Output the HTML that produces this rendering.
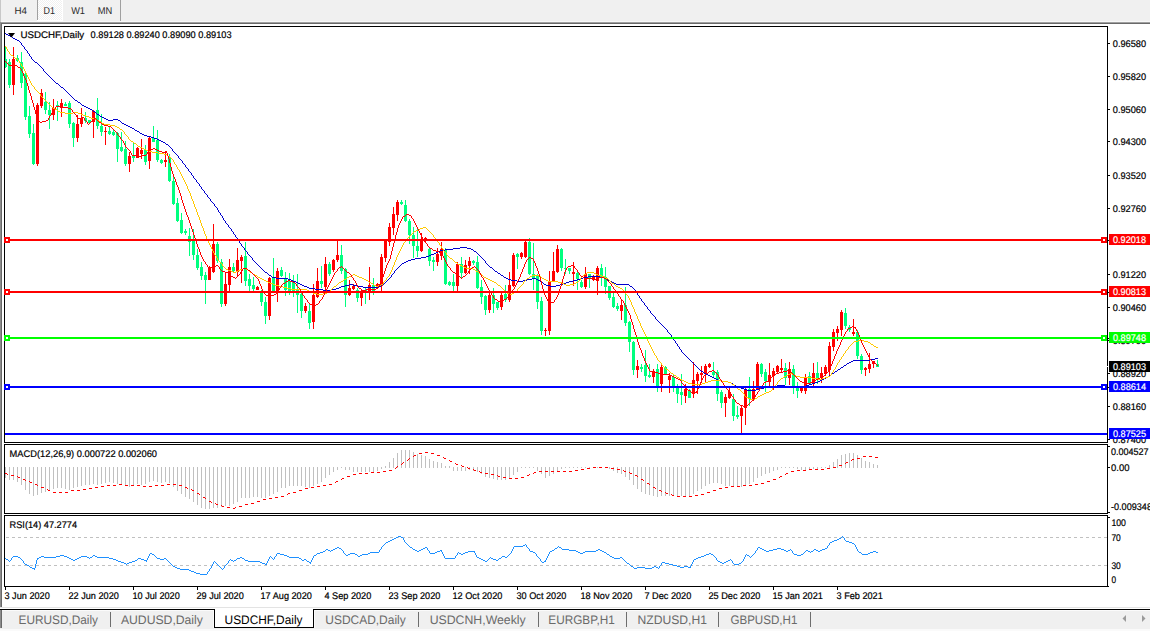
<!DOCTYPE html>
<html><head><meta charset="utf-8"><title>USDCHF,Daily</title>
<style>
html,body{margin:0;padding:0;background:#fff;}
body{width:1150px;height:631px;overflow:hidden;}
svg{display:block;font-family:"Liberation Sans",sans-serif;text-rendering:geometricPrecision;}
text{font-family:"Liberation Sans",sans-serif;}
.b text{stroke:#000;stroke-width:0.2px;}
.w text{stroke:#fff;stroke-width:0.2px;}
</style></head><body>
<svg width="1150" height="631" viewBox="0 0 1150 631">
<rect x="0" y="0" width="1150" height="631" fill="#ffffff"/>
<rect x="0" y="0" width="1150" height="21" fill="#f0f0f0"/>
<rect x="0" y="21" width="1150" height="1" fill="#f8f8f8"/>
<rect x="0" y="22" width="1150" height="1" fill="#a0a0a0"/>
<rect x="0" y="23" width="1150" height="1" fill="#696969"/>
<rect x="0" y="0" width="1" height="22" fill="#c8c8c8"/>
<rect x="0" y="22" width="1" height="586" fill="#8c8c8c"/>
<rect x="1" y="23" width="1" height="585" fill="#696969"/>
<defs><pattern id="hat" width="2" height="2" patternUnits="userSpaceOnUse"><rect width="2" height="2" fill="#ffffff"/><rect x="0" y="0" width="1" height="1" fill="#f0f0f0"/><rect x="1" y="1" width="1" height="1" fill="#f0f0f0"/></pattern></defs>
<rect x="38" y="0" width="24" height="20" fill="url(#hat)"/>
<rect x="62" y="0" width="1" height="21" fill="#fff"/>
<rect x="37" y="20" width="26" height="1" fill="#fff"/>
<rect x="37" y="0" width="1" height="20" fill="#a0a0a0"/>
<rect x="120" y="0" width="1" height="21" fill="#a0a0a0"/>
<text x="14.5" y="14" font-size="10" fill="#2a2a2a" textLength="12.50" lengthAdjust="spacingAndGlyphs">H4</text>
<text x="43.6" y="14" font-size="10" fill="#2a2a2a" textLength="11.40" lengthAdjust="spacingAndGlyphs">D1</text>
<text x="71.2" y="14" font-size="10" fill="#2a2a2a" textLength="13.80" lengthAdjust="spacingAndGlyphs">W1</text>
<text x="97.8" y="14" font-size="10" fill="#2a2a2a" textLength="14.50" lengthAdjust="spacingAndGlyphs">MN</text>
<g shape-rendering="crispEdges">
<rect x="5" y="46" width="1" height="22" fill="#00ff7f"/>
<rect x="4" y="59" width="3" height="8" fill="#00ff7f"/>
<rect x="9" y="59" width="1" height="29" fill="#00ff7f"/>
<rect x="8" y="62" width="3" height="23" fill="#00ff7f"/>
<rect x="13" y="47" width="1" height="48" fill="#ff0000"/>
<rect x="12" y="59" width="3" height="26" fill="#ff0000"/>
<rect x="17" y="55" width="1" height="7" fill="#00ff7f"/>
<rect x="16" y="58" width="3" height="3" fill="#00ff7f"/>
<rect x="21" y="52" width="1" height="36" fill="#00ff7f"/>
<rect x="20" y="62" width="3" height="21" fill="#00ff7f"/>
<rect x="25" y="73" width="1" height="47" fill="#00ff7f"/>
<rect x="24" y="74" width="3" height="43" fill="#00ff7f"/>
<rect x="29" y="106" width="1" height="32" fill="#00ff7f"/>
<rect x="28" y="116" width="3" height="18" fill="#00ff7f"/>
<rect x="33" y="124" width="1" height="41" fill="#00ff7f"/>
<rect x="32" y="133" width="3" height="31" fill="#00ff7f"/>
<rect x="37" y="103" width="1" height="63" fill="#ff0000"/>
<rect x="36" y="105" width="3" height="59" fill="#ff0000"/>
<rect x="41" y="89" width="1" height="19" fill="#ff0000"/>
<rect x="40" y="93" width="3" height="13" fill="#ff0000"/>
<rect x="45" y="92" width="1" height="22" fill="#00ff7f"/>
<rect x="44" y="102" width="3" height="8" fill="#00ff7f"/>
<rect x="49" y="102" width="1" height="27" fill="#00ff7f"/>
<rect x="48" y="110" width="3" height="5" fill="#00ff7f"/>
<rect x="53" y="99" width="1" height="21" fill="#ff0000"/>
<rect x="52" y="108" width="3" height="7" fill="#ff0000"/>
<rect x="57" y="101" width="1" height="20" fill="#00ff7f"/>
<rect x="56" y="105" width="3" height="2" fill="#00ff7f"/>
<rect x="61" y="99" width="1" height="18" fill="#ff0000"/>
<rect x="60" y="103" width="3" height="5" fill="#ff0000"/>
<rect x="65" y="102" width="1" height="4" fill="#00ff7f"/>
<rect x="64" y="104" width="3" height="2" fill="#00ff7f"/>
<rect x="69" y="101" width="1" height="27" fill="#00ff7f"/>
<rect x="68" y="103" width="3" height="21" fill="#00ff7f"/>
<rect x="73" y="122" width="1" height="25" fill="#00ff7f"/>
<rect x="72" y="123" width="3" height="15" fill="#00ff7f"/>
<rect x="77" y="115" width="1" height="27" fill="#ff0000"/>
<rect x="76" y="124" width="3" height="14" fill="#ff0000"/>
<rect x="81" y="108" width="1" height="19" fill="#ff0000"/>
<rect x="80" y="118" width="3" height="6" fill="#ff0000"/>
<rect x="85" y="112" width="1" height="11" fill="#00ff7f"/>
<rect x="84" y="118" width="3" height="3" fill="#00ff7f"/>
<rect x="89" y="120" width="1" height="4" fill="#00ff7f"/>
<rect x="88" y="120" width="3" height="3" fill="#00ff7f"/>
<rect x="93" y="110" width="1" height="28" fill="#ff0000"/>
<rect x="92" y="111" width="3" height="11" fill="#ff0000"/>
<rect x="97" y="98" width="1" height="31" fill="#00ff7f"/>
<rect x="96" y="110" width="3" height="16" fill="#00ff7f"/>
<rect x="101" y="114" width="1" height="22" fill="#00ff7f"/>
<rect x="100" y="126" width="3" height="6" fill="#00ff7f"/>
<rect x="105" y="127" width="1" height="18" fill="#ff0000"/>
<rect x="104" y="131" width="3" height="1" fill="#ff0000"/>
<rect x="109" y="127" width="1" height="8" fill="#00ff7f"/>
<rect x="108" y="131" width="3" height="3" fill="#00ff7f"/>
<rect x="113" y="130" width="1" height="6" fill="#00ff7f"/>
<rect x="112" y="132" width="3" height="3" fill="#00ff7f"/>
<rect x="117" y="132" width="1" height="30" fill="#00ff7f"/>
<rect x="116" y="133" width="3" height="16" fill="#00ff7f"/>
<rect x="121" y="132" width="1" height="20" fill="#00ff7f"/>
<rect x="120" y="147" width="3" height="4" fill="#00ff7f"/>
<rect x="125" y="141" width="1" height="25" fill="#00ff7f"/>
<rect x="124" y="149" width="3" height="15" fill="#00ff7f"/>
<rect x="129" y="152" width="1" height="20" fill="#ff0000"/>
<rect x="128" y="156" width="3" height="8" fill="#ff0000"/>
<rect x="133" y="142" width="1" height="20" fill="#00ff7f"/>
<rect x="132" y="156" width="3" height="2" fill="#00ff7f"/>
<rect x="137" y="147" width="1" height="11" fill="#ff0000"/>
<rect x="136" y="148" width="3" height="10" fill="#ff0000"/>
<rect x="141" y="139" width="1" height="20" fill="#ff0000"/>
<rect x="140" y="150" width="3" height="4" fill="#ff0000"/>
<rect x="145" y="145" width="1" height="20" fill="#00ff7f"/>
<rect x="144" y="150" width="3" height="12" fill="#00ff7f"/>
<rect x="149" y="136" width="1" height="33" fill="#ff0000"/>
<rect x="148" y="138" width="3" height="23" fill="#ff0000"/>
<rect x="153" y="126" width="1" height="16" fill="#00ff7f"/>
<rect x="152" y="138" width="3" height="4" fill="#00ff7f"/>
<rect x="157" y="130" width="1" height="32" fill="#00ff7f"/>
<rect x="156" y="140" width="3" height="20" fill="#00ff7f"/>
<rect x="161" y="159" width="1" height="5" fill="#00ff7f"/>
<rect x="160" y="160" width="3" height="3" fill="#00ff7f"/>
<rect x="165" y="151" width="1" height="16" fill="#ff0000"/>
<rect x="164" y="160" width="3" height="2" fill="#ff0000"/>
<rect x="169" y="154" width="1" height="28" fill="#00ff7f"/>
<rect x="168" y="157" width="3" height="24" fill="#00ff7f"/>
<rect x="173" y="176" width="1" height="29" fill="#00ff7f"/>
<rect x="172" y="181" width="3" height="23" fill="#00ff7f"/>
<rect x="177" y="198" width="1" height="24" fill="#00ff7f"/>
<rect x="176" y="203" width="3" height="18" fill="#00ff7f"/>
<rect x="181" y="213" width="1" height="21" fill="#00ff7f"/>
<rect x="180" y="220" width="3" height="13" fill="#00ff7f"/>
<rect x="185" y="229" width="1" height="6" fill="#00ff7f"/>
<rect x="184" y="231" width="3" height="2" fill="#00ff7f"/>
<rect x="189" y="228" width="1" height="28" fill="#00ff7f"/>
<rect x="188" y="236" width="3" height="6" fill="#00ff7f"/>
<rect x="193" y="229" width="1" height="31" fill="#00ff7f"/>
<rect x="192" y="241" width="3" height="14" fill="#00ff7f"/>
<rect x="197" y="249" width="1" height="21" fill="#00ff7f"/>
<rect x="196" y="255" width="3" height="13" fill="#00ff7f"/>
<rect x="201" y="262" width="1" height="18" fill="#00ff7f"/>
<rect x="200" y="267" width="3" height="9" fill="#00ff7f"/>
<rect x="205" y="272" width="1" height="32" fill="#00ff7f"/>
<rect x="204" y="275" width="3" height="5" fill="#00ff7f"/>
<rect x="209" y="266" width="1" height="14" fill="#ff0000"/>
<rect x="208" y="267" width="3" height="13" fill="#ff0000"/>
<rect x="213" y="224" width="1" height="49" fill="#ff0000"/>
<rect x="212" y="244" width="3" height="28" fill="#ff0000"/>
<rect x="217" y="242" width="1" height="21" fill="#00ff7f"/>
<rect x="216" y="244" width="3" height="17" fill="#00ff7f"/>
<rect x="221" y="259" width="1" height="48" fill="#00ff7f"/>
<rect x="220" y="262" width="3" height="42" fill="#00ff7f"/>
<rect x="225" y="272" width="1" height="34" fill="#ff0000"/>
<rect x="224" y="284" width="3" height="20" fill="#ff0000"/>
<rect x="229" y="259" width="1" height="32" fill="#ff0000"/>
<rect x="228" y="267" width="3" height="18" fill="#ff0000"/>
<rect x="233" y="263" width="1" height="9" fill="#00ff7f"/>
<rect x="232" y="267" width="3" height="4" fill="#00ff7f"/>
<rect x="237" y="248" width="1" height="28" fill="#ff0000"/>
<rect x="236" y="260" width="3" height="12" fill="#ff0000"/>
<rect x="241" y="255" width="1" height="28" fill="#ff0000"/>
<rect x="240" y="257" width="3" height="4" fill="#ff0000"/>
<rect x="245" y="242" width="1" height="44" fill="#00ff7f"/>
<rect x="244" y="256" width="3" height="25" fill="#00ff7f"/>
<rect x="249" y="274" width="1" height="17" fill="#00ff7f"/>
<rect x="248" y="279" width="3" height="7" fill="#00ff7f"/>
<rect x="253" y="277" width="1" height="14" fill="#00ff7f"/>
<rect x="252" y="285" width="3" height="4" fill="#00ff7f"/>
<rect x="257" y="286" width="1" height="4" fill="#ff0000"/>
<rect x="256" y="287" width="3" height="3" fill="#ff0000"/>
<rect x="261" y="290" width="1" height="16" fill="#00ff7f"/>
<rect x="260" y="293" width="3" height="9" fill="#00ff7f"/>
<rect x="265" y="297" width="1" height="27" fill="#00ff7f"/>
<rect x="264" y="302" width="3" height="14" fill="#00ff7f"/>
<rect x="269" y="277" width="1" height="43" fill="#ff0000"/>
<rect x="268" y="278" width="3" height="38" fill="#ff0000"/>
<rect x="273" y="258" width="1" height="34" fill="#00ff7f"/>
<rect x="272" y="278" width="3" height="13" fill="#00ff7f"/>
<rect x="277" y="268" width="1" height="34" fill="#ff0000"/>
<rect x="276" y="271" width="3" height="20" fill="#ff0000"/>
<rect x="281" y="267" width="1" height="10" fill="#00ff7f"/>
<rect x="280" y="270" width="3" height="6" fill="#00ff7f"/>
<rect x="285" y="272" width="1" height="24" fill="#00ff7f"/>
<rect x="284" y="279" width="3" height="11" fill="#00ff7f"/>
<rect x="289" y="273" width="1" height="22" fill="#00ff7f"/>
<rect x="288" y="281" width="3" height="10" fill="#00ff7f"/>
<rect x="293" y="275" width="1" height="22" fill="#00ff7f"/>
<rect x="292" y="282" width="3" height="9" fill="#00ff7f"/>
<rect x="297" y="274" width="1" height="39" fill="#00ff7f"/>
<rect x="296" y="289" width="3" height="6" fill="#00ff7f"/>
<rect x="301" y="293" width="1" height="25" fill="#00ff7f"/>
<rect x="300" y="294" width="3" height="17" fill="#00ff7f"/>
<rect x="305" y="303" width="1" height="10" fill="#ff0000"/>
<rect x="304" y="306" width="3" height="5" fill="#ff0000"/>
<rect x="309" y="304" width="1" height="25" fill="#00ff7f"/>
<rect x="308" y="311" width="3" height="12" fill="#00ff7f"/>
<rect x="313" y="284" width="1" height="45" fill="#ff0000"/>
<rect x="312" y="295" width="3" height="27" fill="#ff0000"/>
<rect x="317" y="268" width="1" height="30" fill="#ff0000"/>
<rect x="316" y="281" width="3" height="16" fill="#ff0000"/>
<rect x="321" y="266" width="1" height="22" fill="#00ff7f"/>
<rect x="320" y="281" width="3" height="3" fill="#00ff7f"/>
<rect x="325" y="257" width="1" height="33" fill="#ff0000"/>
<rect x="324" y="264" width="3" height="23" fill="#ff0000"/>
<rect x="329" y="262" width="1" height="14" fill="#00ff7f"/>
<rect x="328" y="264" width="3" height="10" fill="#00ff7f"/>
<rect x="333" y="259" width="1" height="13" fill="#ff0000"/>
<rect x="332" y="260" width="3" height="10" fill="#ff0000"/>
<rect x="337" y="241" width="1" height="21" fill="#ff0000"/>
<rect x="336" y="255" width="3" height="5" fill="#ff0000"/>
<rect x="341" y="245" width="1" height="29" fill="#00ff7f"/>
<rect x="340" y="255" width="3" height="16" fill="#00ff7f"/>
<rect x="345" y="268" width="1" height="39" fill="#00ff7f"/>
<rect x="344" y="269" width="3" height="26" fill="#00ff7f"/>
<rect x="349" y="280" width="1" height="16" fill="#ff0000"/>
<rect x="348" y="288" width="3" height="7" fill="#ff0000"/>
<rect x="353" y="284" width="1" height="6" fill="#ff0000"/>
<rect x="352" y="286" width="3" height="3" fill="#ff0000"/>
<rect x="357" y="288" width="1" height="14" fill="#00ff7f"/>
<rect x="356" y="290" width="3" height="8" fill="#00ff7f"/>
<rect x="361" y="289" width="1" height="17" fill="#ff0000"/>
<rect x="360" y="291" width="3" height="7" fill="#ff0000"/>
<rect x="365" y="288" width="1" height="16" fill="#00ff7f"/>
<rect x="364" y="290" width="3" height="2" fill="#00ff7f"/>
<rect x="369" y="267" width="1" height="33" fill="#ff0000"/>
<rect x="368" y="285" width="3" height="8" fill="#ff0000"/>
<rect x="373" y="278" width="1" height="17" fill="#00ff7f"/>
<rect x="372" y="285" width="3" height="6" fill="#00ff7f"/>
<rect x="377" y="283" width="1" height="5" fill="#ff0000"/>
<rect x="376" y="284" width="3" height="2" fill="#ff0000"/>
<rect x="381" y="254" width="1" height="37" fill="#ff0000"/>
<rect x="380" y="257" width="3" height="29" fill="#ff0000"/>
<rect x="385" y="240" width="1" height="22" fill="#ff0000"/>
<rect x="384" y="241" width="3" height="17" fill="#ff0000"/>
<rect x="389" y="223" width="1" height="23" fill="#ff0000"/>
<rect x="388" y="227" width="3" height="15" fill="#ff0000"/>
<rect x="393" y="207" width="1" height="28" fill="#ff0000"/>
<rect x="392" y="214" width="3" height="14" fill="#ff0000"/>
<rect x="397" y="200" width="1" height="21" fill="#ff0000"/>
<rect x="396" y="202" width="3" height="13" fill="#ff0000"/>
<rect x="401" y="200" width="1" height="5" fill="#00ff7f"/>
<rect x="400" y="202" width="3" height="2" fill="#00ff7f"/>
<rect x="405" y="200" width="1" height="22" fill="#00ff7f"/>
<rect x="404" y="205" width="3" height="16" fill="#00ff7f"/>
<rect x="409" y="219" width="1" height="25" fill="#00ff7f"/>
<rect x="408" y="221" width="3" height="14" fill="#00ff7f"/>
<rect x="413" y="227" width="1" height="31" fill="#00ff7f"/>
<rect x="412" y="235" width="3" height="11" fill="#00ff7f"/>
<rect x="417" y="228" width="1" height="29" fill="#00ff7f"/>
<rect x="416" y="246" width="3" height="5" fill="#00ff7f"/>
<rect x="421" y="233" width="1" height="19" fill="#ff0000"/>
<rect x="420" y="241" width="3" height="10" fill="#ff0000"/>
<rect x="425" y="237" width="1" height="6" fill="#ff0000"/>
<rect x="424" y="238" width="3" height="3" fill="#ff0000"/>
<rect x="429" y="247" width="1" height="19" fill="#00ff7f"/>
<rect x="428" y="249" width="3" height="12" fill="#00ff7f"/>
<rect x="433" y="257" width="1" height="14" fill="#00ff7f"/>
<rect x="432" y="260" width="3" height="2" fill="#00ff7f"/>
<rect x="437" y="248" width="1" height="18" fill="#ff0000"/>
<rect x="436" y="254" width="3" height="8" fill="#ff0000"/>
<rect x="441" y="242" width="1" height="18" fill="#ff0000"/>
<rect x="440" y="249" width="3" height="7" fill="#ff0000"/>
<rect x="445" y="248" width="1" height="37" fill="#00ff7f"/>
<rect x="444" y="250" width="3" height="34" fill="#00ff7f"/>
<rect x="449" y="281" width="1" height="5" fill="#00ff7f"/>
<rect x="448" y="282" width="3" height="3" fill="#00ff7f"/>
<rect x="453" y="274" width="1" height="17" fill="#00ff7f"/>
<rect x="452" y="282" width="3" height="4" fill="#00ff7f"/>
<rect x="457" y="262" width="1" height="29" fill="#ff0000"/>
<rect x="456" y="264" width="3" height="22" fill="#ff0000"/>
<rect x="461" y="257" width="1" height="22" fill="#00ff7f"/>
<rect x="460" y="264" width="3" height="9" fill="#00ff7f"/>
<rect x="465" y="260" width="1" height="14" fill="#ff0000"/>
<rect x="464" y="265" width="3" height="8" fill="#ff0000"/>
<rect x="469" y="257" width="1" height="17" fill="#ff0000"/>
<rect x="468" y="261" width="3" height="5" fill="#ff0000"/>
<rect x="473" y="260" width="1" height="5" fill="#00ff7f"/>
<rect x="472" y="261" width="3" height="2" fill="#00ff7f"/>
<rect x="477" y="256" width="1" height="33" fill="#00ff7f"/>
<rect x="476" y="262" width="3" height="26" fill="#00ff7f"/>
<rect x="481" y="280" width="1" height="24" fill="#00ff7f"/>
<rect x="480" y="287" width="3" height="10" fill="#00ff7f"/>
<rect x="485" y="295" width="1" height="20" fill="#00ff7f"/>
<rect x="484" y="296" width="3" height="14" fill="#00ff7f"/>
<rect x="489" y="290" width="1" height="23" fill="#ff0000"/>
<rect x="488" y="295" width="3" height="15" fill="#ff0000"/>
<rect x="493" y="288" width="1" height="25" fill="#00ff7f"/>
<rect x="492" y="295" width="3" height="9" fill="#00ff7f"/>
<rect x="497" y="302" width="1" height="8" fill="#00ff7f"/>
<rect x="496" y="302" width="3" height="6" fill="#00ff7f"/>
<rect x="501" y="293" width="1" height="17" fill="#ff0000"/>
<rect x="500" y="295" width="3" height="12" fill="#ff0000"/>
<rect x="505" y="285" width="1" height="17" fill="#00ff7f"/>
<rect x="504" y="294" width="3" height="6" fill="#00ff7f"/>
<rect x="509" y="272" width="1" height="30" fill="#ff0000"/>
<rect x="508" y="285" width="3" height="15" fill="#ff0000"/>
<rect x="513" y="253" width="1" height="34" fill="#ff0000"/>
<rect x="512" y="255" width="3" height="31" fill="#ff0000"/>
<rect x="517" y="253" width="1" height="16" fill="#00ff7f"/>
<rect x="516" y="254" width="3" height="3" fill="#00ff7f"/>
<rect x="521" y="252" width="1" height="7" fill="#ff0000"/>
<rect x="520" y="253" width="3" height="4" fill="#ff0000"/>
<rect x="525" y="241" width="1" height="17" fill="#ff0000"/>
<rect x="524" y="242" width="3" height="15" fill="#ff0000"/>
<rect x="529" y="238" width="1" height="37" fill="#00ff7f"/>
<rect x="528" y="242" width="3" height="32" fill="#00ff7f"/>
<rect x="533" y="243" width="1" height="47" fill="#00ff7f"/>
<rect x="532" y="274" width="3" height="5" fill="#00ff7f"/>
<rect x="537" y="274" width="1" height="35" fill="#00ff7f"/>
<rect x="536" y="275" width="3" height="27" fill="#00ff7f"/>
<rect x="541" y="297" width="1" height="38" fill="#00ff7f"/>
<rect x="540" y="301" width="3" height="30" fill="#00ff7f"/>
<rect x="545" y="328" width="1" height="8" fill="#ff0000"/>
<rect x="544" y="330" width="3" height="1" fill="#ff0000"/>
<rect x="549" y="271" width="1" height="64" fill="#ff0000"/>
<rect x="548" y="281" width="3" height="50" fill="#ff0000"/>
<rect x="553" y="252" width="1" height="30" fill="#ff0000"/>
<rect x="552" y="271" width="3" height="10" fill="#ff0000"/>
<rect x="557" y="245" width="1" height="28" fill="#ff0000"/>
<rect x="556" y="249" width="3" height="23" fill="#ff0000"/>
<rect x="561" y="248" width="1" height="23" fill="#00ff7f"/>
<rect x="560" y="249" width="3" height="19" fill="#00ff7f"/>
<rect x="565" y="259" width="1" height="15" fill="#00ff7f"/>
<rect x="564" y="268" width="3" height="1" fill="#00ff7f"/>
<rect x="569" y="268" width="1" height="6" fill="#00ff7f"/>
<rect x="568" y="268" width="3" height="3" fill="#00ff7f"/>
<rect x="573" y="262" width="1" height="24" fill="#ff0000"/>
<rect x="572" y="272" width="3" height="2" fill="#ff0000"/>
<rect x="577" y="272" width="1" height="18" fill="#00ff7f"/>
<rect x="576" y="273" width="3" height="6" fill="#00ff7f"/>
<rect x="581" y="280" width="1" height="8" fill="#00ff7f"/>
<rect x="580" y="282" width="3" height="5" fill="#00ff7f"/>
<rect x="585" y="267" width="1" height="22" fill="#ff0000"/>
<rect x="584" y="274" width="3" height="13" fill="#ff0000"/>
<rect x="589" y="274" width="1" height="14" fill="#00ff7f"/>
<rect x="588" y="274" width="3" height="4" fill="#00ff7f"/>
<rect x="593" y="275" width="1" height="6" fill="#ff0000"/>
<rect x="592" y="277" width="3" height="3" fill="#ff0000"/>
<rect x="597" y="266" width="1" height="29" fill="#ff0000"/>
<rect x="596" y="268" width="3" height="13" fill="#ff0000"/>
<rect x="601" y="264" width="1" height="22" fill="#00ff7f"/>
<rect x="600" y="268" width="3" height="9" fill="#00ff7f"/>
<rect x="605" y="267" width="1" height="27" fill="#00ff7f"/>
<rect x="604" y="277" width="3" height="10" fill="#00ff7f"/>
<rect x="609" y="286" width="1" height="14" fill="#00ff7f"/>
<rect x="608" y="286" width="3" height="12" fill="#00ff7f"/>
<rect x="613" y="293" width="1" height="15" fill="#00ff7f"/>
<rect x="612" y="297" width="3" height="10" fill="#00ff7f"/>
<rect x="617" y="303" width="1" height="8" fill="#00ff7f"/>
<rect x="616" y="306" width="3" height="3" fill="#00ff7f"/>
<rect x="621" y="299" width="1" height="21" fill="#ff0000"/>
<rect x="620" y="305" width="3" height="6" fill="#ff0000"/>
<rect x="625" y="287" width="1" height="39" fill="#00ff7f"/>
<rect x="624" y="305" width="3" height="18" fill="#00ff7f"/>
<rect x="629" y="321" width="1" height="31" fill="#00ff7f"/>
<rect x="628" y="322" width="3" height="20" fill="#00ff7f"/>
<rect x="633" y="341" width="1" height="34" fill="#00ff7f"/>
<rect x="632" y="342" width="3" height="28" fill="#00ff7f"/>
<rect x="637" y="360" width="1" height="18" fill="#ff0000"/>
<rect x="636" y="366" width="3" height="4" fill="#ff0000"/>
<rect x="641" y="364" width="1" height="8" fill="#00ff7f"/>
<rect x="640" y="367" width="3" height="2" fill="#00ff7f"/>
<rect x="645" y="350" width="1" height="32" fill="#00ff7f"/>
<rect x="644" y="365" width="3" height="11" fill="#00ff7f"/>
<rect x="649" y="364" width="1" height="14" fill="#00ff7f"/>
<rect x="648" y="375" width="3" height="2" fill="#00ff7f"/>
<rect x="653" y="369" width="1" height="14" fill="#ff0000"/>
<rect x="652" y="371" width="3" height="6" fill="#ff0000"/>
<rect x="657" y="364" width="1" height="28" fill="#00ff7f"/>
<rect x="656" y="369" width="3" height="17" fill="#00ff7f"/>
<rect x="661" y="365" width="1" height="27" fill="#ff0000"/>
<rect x="660" y="367" width="3" height="17" fill="#ff0000"/>
<rect x="665" y="366" width="1" height="9" fill="#00ff7f"/>
<rect x="664" y="367" width="3" height="7" fill="#00ff7f"/>
<rect x="669" y="373" width="1" height="20" fill="#ff0000"/>
<rect x="668" y="376" width="3" height="4" fill="#ff0000"/>
<rect x="673" y="375" width="1" height="17" fill="#00ff7f"/>
<rect x="672" y="377" width="3" height="10" fill="#00ff7f"/>
<rect x="677" y="384" width="1" height="19" fill="#00ff7f"/>
<rect x="676" y="388" width="3" height="6" fill="#00ff7f"/>
<rect x="681" y="374" width="1" height="31" fill="#00ff7f"/>
<rect x="680" y="392" width="3" height="3" fill="#00ff7f"/>
<rect x="685" y="384" width="1" height="19" fill="#ff0000"/>
<rect x="684" y="389" width="3" height="7" fill="#ff0000"/>
<rect x="689" y="389" width="1" height="9" fill="#00ff7f"/>
<rect x="688" y="390" width="3" height="8" fill="#00ff7f"/>
<rect x="693" y="362" width="1" height="36" fill="#ff0000"/>
<rect x="692" y="380" width="3" height="14" fill="#ff0000"/>
<rect x="697" y="372" width="1" height="22" fill="#ff0000"/>
<rect x="696" y="374" width="3" height="7" fill="#ff0000"/>
<rect x="701" y="366" width="1" height="17" fill="#ff0000"/>
<rect x="700" y="373" width="3" height="2" fill="#ff0000"/>
<rect x="705" y="364" width="1" height="18" fill="#ff0000"/>
<rect x="704" y="366" width="3" height="8" fill="#ff0000"/>
<rect x="709" y="363" width="1" height="5" fill="#ff0000"/>
<rect x="708" y="364" width="3" height="3" fill="#ff0000"/>
<rect x="713" y="362" width="1" height="15" fill="#00ff7f"/>
<rect x="712" y="372" width="3" height="3" fill="#00ff7f"/>
<rect x="717" y="370" width="1" height="31" fill="#00ff7f"/>
<rect x="716" y="372" width="3" height="22" fill="#00ff7f"/>
<rect x="721" y="390" width="1" height="18" fill="#00ff7f"/>
<rect x="720" y="392" width="3" height="11" fill="#00ff7f"/>
<rect x="725" y="394" width="1" height="23" fill="#ff0000"/>
<rect x="724" y="397" width="3" height="6" fill="#ff0000"/>
<rect x="729" y="387" width="1" height="12" fill="#ff0000"/>
<rect x="728" y="392" width="3" height="6" fill="#ff0000"/>
<rect x="733" y="394" width="1" height="27" fill="#00ff7f"/>
<rect x="732" y="399" width="3" height="17" fill="#00ff7f"/>
<rect x="737" y="406" width="1" height="13" fill="#00ff7f"/>
<rect x="736" y="415" width="3" height="2" fill="#00ff7f"/>
<rect x="741" y="406" width="1" height="27" fill="#ff0000"/>
<rect x="740" y="408" width="3" height="8" fill="#ff0000"/>
<rect x="745" y="388" width="1" height="37" fill="#ff0000"/>
<rect x="744" y="389" width="3" height="19" fill="#ff0000"/>
<rect x="749" y="377" width="1" height="29" fill="#00ff7f"/>
<rect x="748" y="389" width="3" height="10" fill="#00ff7f"/>
<rect x="753" y="381" width="1" height="20" fill="#ff0000"/>
<rect x="752" y="389" width="3" height="11" fill="#ff0000"/>
<rect x="757" y="362" width="1" height="28" fill="#ff0000"/>
<rect x="756" y="364" width="3" height="25" fill="#ff0000"/>
<rect x="761" y="363" width="1" height="14" fill="#00ff7f"/>
<rect x="760" y="364" width="3" height="10" fill="#00ff7f"/>
<rect x="765" y="369" width="1" height="23" fill="#00ff7f"/>
<rect x="764" y="372" width="3" height="9" fill="#00ff7f"/>
<rect x="769" y="363" width="1" height="25" fill="#ff0000"/>
<rect x="768" y="375" width="3" height="7" fill="#ff0000"/>
<rect x="773" y="368" width="1" height="22" fill="#ff0000"/>
<rect x="772" y="371" width="3" height="5" fill="#ff0000"/>
<rect x="777" y="365" width="1" height="9" fill="#ff0000"/>
<rect x="776" y="366" width="3" height="6" fill="#ff0000"/>
<rect x="781" y="359" width="1" height="13" fill="#ff0000"/>
<rect x="780" y="368" width="3" height="2" fill="#ff0000"/>
<rect x="785" y="363" width="1" height="22" fill="#00ff7f"/>
<rect x="784" y="368" width="3" height="10" fill="#00ff7f"/>
<rect x="789" y="362" width="1" height="23" fill="#ff0000"/>
<rect x="788" y="369" width="3" height="9" fill="#ff0000"/>
<rect x="793" y="365" width="1" height="29" fill="#00ff7f"/>
<rect x="792" y="369" width="3" height="17" fill="#00ff7f"/>
<rect x="797" y="382" width="1" height="16" fill="#00ff7f"/>
<rect x="796" y="388" width="3" height="3" fill="#00ff7f"/>
<rect x="801" y="388" width="1" height="5" fill="#ff0000"/>
<rect x="800" y="388" width="3" height="3" fill="#ff0000"/>
<rect x="805" y="374" width="1" height="20" fill="#ff0000"/>
<rect x="804" y="377" width="3" height="14" fill="#ff0000"/>
<rect x="809" y="372" width="1" height="13" fill="#00ff7f"/>
<rect x="808" y="376" width="3" height="8" fill="#00ff7f"/>
<rect x="813" y="363" width="1" height="23" fill="#ff0000"/>
<rect x="812" y="373" width="3" height="10" fill="#ff0000"/>
<rect x="817" y="362" width="1" height="22" fill="#00ff7f"/>
<rect x="816" y="373" width="3" height="5" fill="#00ff7f"/>
<rect x="821" y="367" width="1" height="16" fill="#ff0000"/>
<rect x="820" y="373" width="3" height="5" fill="#ff0000"/>
<rect x="825" y="365" width="1" height="11" fill="#ff0000"/>
<rect x="824" y="367" width="3" height="7" fill="#ff0000"/>
<rect x="829" y="342" width="1" height="33" fill="#ff0000"/>
<rect x="828" y="346" width="3" height="24" fill="#ff0000"/>
<rect x="833" y="329" width="1" height="22" fill="#ff0000"/>
<rect x="832" y="332" width="3" height="15" fill="#ff0000"/>
<rect x="837" y="326" width="1" height="15" fill="#ff0000"/>
<rect x="836" y="329" width="3" height="4" fill="#ff0000"/>
<rect x="841" y="310" width="1" height="26" fill="#ff0000"/>
<rect x="840" y="312" width="3" height="18" fill="#ff0000"/>
<rect x="845" y="308" width="1" height="21" fill="#00ff7f"/>
<rect x="844" y="313" width="3" height="13" fill="#00ff7f"/>
<rect x="849" y="325" width="1" height="7" fill="#00ff7f"/>
<rect x="848" y="327" width="3" height="3" fill="#00ff7f"/>
<rect x="853" y="319" width="1" height="17" fill="#ff0000"/>
<rect x="852" y="332" width="3" height="2" fill="#ff0000"/>
<rect x="857" y="330" width="1" height="29" fill="#00ff7f"/>
<rect x="856" y="332" width="3" height="24" fill="#00ff7f"/>
<rect x="861" y="354" width="1" height="20" fill="#00ff7f"/>
<rect x="860" y="356" width="3" height="14" fill="#00ff7f"/>
<rect x="865" y="367" width="1" height="9" fill="#ff0000"/>
<rect x="864" y="368" width="3" height="2" fill="#ff0000"/>
<rect x="869" y="353" width="1" height="20" fill="#ff0000"/>
<rect x="868" y="364" width="3" height="5" fill="#ff0000"/>
<rect x="873" y="361" width="1" height="7" fill="#ff0000"/>
<rect x="872" y="361" width="3" height="3" fill="#ff0000"/>
<rect x="877" y="360" width="1" height="7" fill="#00ff7f"/>
<rect x="876" y="364" width="3" height="3" fill="#00ff7f"/>
</g>
<g shape-rendering="crispEdges">
<path d="M5 33h1v1h-1zM6 34h2v1h-2zM8 35h2v1h-2zM10 36h2v1h-2zM12 37h1v1h-1zM13 38h2v1h-2zM15 39h2v1h-2zM17 40h2v1h-2zM19 41h1v1h-1zM20 42h1v1h-1zM21 43h1v2h-1zM22 45h1v1h-1zM23 46h1v1h-1zM24 47h1v2h-1zM25 49h1v1h-1zM26 50h1v1h-1zM27 51h1v2h-1zM28 53h1v1h-1zM29 54h1v2h-1zM30 56h1v1h-1zM31 57h1v2h-1zM32 59h1v1h-1zM33 60h1v1h-1zM34 61h1v1h-1zM35 62h2v1h-2zM37 63h1v1h-1zM38 64h1v1h-1zM39 65h1v1h-1zM40 66h1v1h-1zM41 67h1v1h-1zM42 68h1v1h-1zM43 69h1v2h-1zM44 71h1v1h-1zM45 72h1v1h-1zM46 73h1v1h-1zM47 74h1v1h-1zM48 75h1v1h-1zM49 76h1v1h-1zM50 77h1v1h-1zM51 78h1v1h-1zM52 79h1v1h-1zM53 80h1v1h-1zM54 81h1v1h-1zM55 82h1v1h-1zM56 83h2v1h-2zM58 84h1v1h-1zM59 85h1v1h-1zM60 86h1v1h-1zM61 87h2v1h-2zM63 88h1v1h-1zM64 89h1v1h-1zM65 90h1v1h-1zM66 91h1v1h-1zM67 92h1v1h-1zM68 93h1v1h-1zM69 94h1v1h-1zM70 95h1v1h-1zM71 96h1v1h-1zM72 97h1v1h-1zM73 98h1v1h-1zM74 99h1v1h-1zM75 100h2v1h-2zM77 101h1v1h-1zM78 102h2v1h-2zM80 103h1v1h-1zM81 104h1v1h-1zM82 105h2v1h-2zM84 106h2v1h-2zM86 107h2v1h-2zM88 108h2v1h-2zM90 109h2v1h-2zM92 110h1v1h-1zM93 111h2v1h-2zM95 112h1v1h-1zM96 113h1v1h-1zM97 114h2v1h-2zM99 115h1v1h-1zM100 116h2v1h-2zM102 117h2v1h-2zM104 118h2v1h-2zM106 119h2v1h-2zM108 120h5v1h-5zM113 119h5v1h-5zM118 120h2v1h-2zM120 121h1v1h-1zM121 122h1v1h-1zM122 123h2v1h-2zM124 124h2v1h-2zM126 125h2v1h-2zM128 126h2v1h-2zM130 127h2v1h-2zM132 128h2v1h-2zM134 129h1v1h-1zM135 130h2v1h-2zM137 131h2v1h-2zM139 132h1v1h-1zM140 133h2v1h-2zM142 134h2v1h-2zM144 135h3v1h-3zM147 136h4v1h-4zM151 137h3v1h-3zM154 138h3v1h-3zM157 139h2v1h-2zM159 140h2v1h-2zM161 141h2v1h-2zM163 142h2v1h-2zM165 143h1v1h-1zM166 144h2v1h-2zM168 145h1v1h-1zM169 146h1v1h-1zM170 147h1v1h-1zM171 148h1v1h-1zM172 149h1v2h-1zM173 151h1v1h-1zM174 152h1v1h-1zM175 153h1v1h-1zM176 154h1v1h-1zM177 155h1v1h-1zM178 156h1v2h-1zM179 158h1v1h-1zM180 159h1v1h-1zM181 160h1v1h-1zM182 161h1v2h-1zM183 163h1v1h-1zM184 164h1v1h-1zM185 165h1v2h-1zM186 167h1v1h-1zM187 168h1v1h-1zM188 169h1v2h-1zM189 171h1v1h-1zM190 172h1v1h-1zM191 173h1v2h-1zM192 175h1v1h-1zM193 176h1v2h-1zM194 178h1v1h-1zM195 179h1v1h-1zM196 180h1v2h-1zM197 182h1v1h-1zM198 183h1v1h-1zM199 184h1v2h-1zM200 186h1v1h-1zM201 187h1v2h-1zM202 189h1v1h-1zM203 190h1v1h-1zM204 191h1v2h-1zM205 193h1v1h-1zM206 194h1v1h-1zM207 195h1v2h-1zM208 197h1v1h-1zM209 198h1v1h-1zM210 199h1v2h-1zM211 201h1v1h-1zM212 202h1v1h-1zM213 203h1v1h-1zM214 204h1v2h-1zM215 206h1v1h-1zM216 207h1v1h-1zM217 208h1v2h-1zM218 210h1v2h-1zM219 212h1v1h-1zM220 213h1v2h-1zM221 215h1v1h-1zM222 216h1v2h-1zM223 218h1v2h-1zM224 220h1v1h-1zM225 221h1v2h-1zM226 223h1v1h-1zM227 224h1v1h-1zM228 225h1v2h-1zM229 227h1v1h-1zM230 228h1v1h-1zM231 229h1v2h-1zM232 231h1v1h-1zM233 232h1v2h-1zM234 234h1v1h-1zM235 235h1v2h-1zM236 237h1v1h-1zM237 238h1v2h-1zM238 240h1v1h-1zM239 241h1v2h-1zM240 243h1v1h-1zM241 244h1v2h-1zM242 246h1v1h-1zM243 247h1v1h-1zM244 248h1v2h-1zM245 250h1v1h-1zM246 251h1v1h-1zM247 252h1v2h-1zM248 254h1v1h-1zM249 255h1v1h-1zM250 256h1v1h-1zM251 257h1v1h-1zM252 258h1v2h-1zM253 260h1v1h-1zM254 261h1v1h-1zM255 262h1v1h-1zM256 263h1v1h-1zM257 264h1v1h-1zM258 265h1v1h-1zM259 266h1v1h-1zM260 267h1v1h-1zM261 268h1v1h-1zM262 269h1v1h-1zM263 270h1v1h-1zM264 271h1v1h-1zM265 272h2v1h-2zM267 273h1v1h-1zM268 274h1v1h-1zM269 275h2v1h-2zM271 276h1v1h-1zM272 277h4v1h-4zM276 278h12v1h-12zM288 279h3v1h-3zM291 280h2v1h-2zM293 281h3v1h-3zM296 282h2v1h-2zM298 283h2v1h-2zM300 284h2v1h-2zM302 285h2v1h-2zM304 286h3v1h-3zM307 287h2v1h-2zM309 288h6v1h-6zM315 289h8v1h-8zM323 290h8v1h-8zM331 289h5v1h-5zM336 288h3v1h-3zM339 287h2v1h-2zM341 286h4v1h-4zM345 285h4v1h-4zM349 284h4v1h-4zM353 285h4v1h-4zM357 286h6v1h-6zM363 287h15v1h-15zM378 286h3v1h-3zM381 285h1v1h-1zM382 284h2v1h-2zM384 283h1v1h-1zM385 282h1v1h-1zM386 281h1v1h-1zM387 280h1v1h-1zM388 279h1v1h-1zM389 278h1v1h-1zM390 277h1v1h-1zM391 275h1v2h-1zM392 274h1v1h-1zM393 273h1v1h-1zM394 271h1v2h-1zM395 270h1v1h-1zM396 269h1v1h-1zM397 268h1v1h-1zM398 267h1v1h-1zM399 266h1v1h-1zM400 265h1v1h-1zM401 264h1v1h-1zM402 263h2v1h-2zM404 262h2v1h-2zM406 261h2v1h-2zM408 260h3v1h-3zM411 259h4v1h-4zM415 258h6v1h-6zM421 257h5v1h-5zM426 256h3v1h-3zM429 255h2v1h-2zM431 254h3v1h-3zM434 253h2v1h-2zM436 252h2v1h-2zM438 251h2v1h-2zM440 250h5v1h-5zM445 249h8v1h-8zM453 248h7v1h-7zM460 247h7v1h-7zM467 248h4v1h-4zM471 249h2v1h-2zM473 250h1v1h-1zM474 251h2v1h-2zM476 252h1v1h-1zM477 253h1v1h-1zM478 254h1v1h-1zM479 255h1v1h-1zM480 256h1v1h-1zM481 257h1v1h-1zM482 258h1v1h-1zM483 259h1v1h-1zM484 260h1v1h-1zM485 261h1v2h-1zM486 263h1v1h-1zM487 264h1v1h-1zM488 265h1v1h-1zM489 266h1v1h-1zM490 267h2v1h-2zM492 268h1v1h-1zM493 269h1v1h-1zM494 270h1v1h-1zM495 271h2v1h-2zM497 272h1v1h-1zM498 273h2v1h-2zM500 274h1v1h-1zM501 275h2v1h-2zM503 276h1v1h-1zM504 277h2v1h-2zM506 278h2v1h-2zM508 279h3v1h-3zM511 280h6v1h-6zM517 281h6v1h-6zM523 280h4v1h-4zM527 279h5v1h-5zM532 278h4v1h-4zM536 279h2v1h-2zM538 280h2v1h-2zM540 281h1v1h-1zM541 282h2v1h-2zM543 283h1v1h-1zM544 284h2v1h-2zM546 285h4v1h-4zM550 286h6v1h-6zM556 285h4v1h-4zM560 284h3v1h-3zM563 283h3v1h-3zM566 282h3v1h-3zM569 281h4v1h-4zM573 280h4v1h-4zM577 279h3v1h-3zM580 278h3v1h-3zM583 277h5v1h-5zM588 276h12v1h-12zM600 277h4v1h-4zM604 278h2v1h-2zM606 279h2v1h-2zM608 280h2v1h-2zM610 281h2v1h-2zM612 282h2v1h-2zM614 283h2v1h-2zM616 284h13v1h-13zM629 285h1v1h-1zM630 286h2v1h-2zM632 287h1v1h-1zM633 288h1v1h-1zM634 289h1v1h-1zM635 290h1v2h-1zM636 292h1v1h-1zM637 293h1v2h-1zM638 295h1v1h-1zM639 296h1v2h-1zM640 298h1v1h-1zM641 299h1v2h-1zM642 301h1v1h-1zM643 302h1v1h-1zM644 303h1v2h-1zM645 305h1v1h-1zM646 306h1v1h-1zM647 307h1v2h-1zM648 309h1v1h-1zM649 310h1v1h-1zM650 311h1v2h-1zM651 313h1v1h-1zM652 314h1v1h-1zM653 315h1v1h-1zM654 316h1v1h-1zM655 317h1v2h-1zM656 319h1v1h-1zM657 320h1v1h-1zM658 321h1v1h-1zM659 322h1v1h-1zM660 323h1v1h-1zM661 324h1v1h-1zM662 325h1v1h-1zM663 326h1v1h-1zM664 327h1v1h-1zM665 328h1v1h-1zM666 329h1v1h-1zM667 330h1v2h-1zM668 332h1v1h-1zM669 333h1v1h-1zM670 334h1v1h-1zM671 335h1v2h-1zM672 337h1v1h-1zM673 338h1v2h-1zM674 340h1v1h-1zM675 341h1v2h-1zM676 343h1v1h-1zM677 344h1v2h-1zM678 346h1v1h-1zM679 347h1v2h-1zM680 349h1v1h-1zM681 350h1v2h-1zM682 352h1v1h-1zM683 353h1v1h-1zM684 354h1v1h-1zM685 355h1v1h-1zM686 356h1v1h-1zM687 357h1v1h-1zM688 358h1v1h-1zM689 359h1v1h-1zM690 360h1v1h-1zM691 361h1v1h-1zM692 362h1v1h-1zM693 363h1v1h-1zM694 364h1v1h-1zM695 365h1v1h-1zM696 366h1v1h-1zM697 367h1v1h-1zM698 368h1v1h-1zM699 369h1v1h-1zM700 370h1v1h-1zM701 371h2v1h-2zM703 372h1v1h-1zM704 373h2v1h-2zM706 374h2v1h-2zM708 375h2v1h-2zM710 376h2v1h-2zM712 377h2v1h-2zM714 378h2v1h-2zM716 379h2v1h-2zM718 380h4v1h-4zM722 381h6v1h-6zM728 382h3v1h-3zM731 383h2v1h-2zM733 384h1v1h-1zM734 385h2v1h-2zM736 386h2v1h-2zM738 387h3v1h-3zM741 388h3v1h-3zM744 389h3v1h-3zM747 390h9v1h-9zM756 389h3v1h-3zM759 388h5v1h-5zM764 387h6v1h-6zM770 386h7v1h-7zM777 385h8v1h-8zM785 386h21v1h-21zM806 385h3v1h-3zM809 384h3v1h-3zM812 383h3v1h-3zM815 382h3v1h-3zM818 381h2v1h-2zM820 380h2v1h-2zM822 379h2v1h-2zM824 378h2v1h-2zM826 377h2v1h-2zM828 376h1v1h-1zM829 375h2v1h-2zM831 374h1v1h-1zM832 373h2v1h-2zM834 372h1v1h-1zM835 371h2v1h-2zM837 370h1v1h-1zM838 369h2v1h-2zM840 368h1v1h-1zM841 367h2v1h-2zM843 366h1v1h-1zM844 365h2v1h-2zM846 364h1v1h-1zM847 363h2v1h-2zM849 362h2v1h-2zM851 361h2v1h-2zM853 360h17v1h-17zM870 359h5v1h-5zM875 358h3v1h-3z" fill="#0000cd"/>
<path d="M5 46h1v1h-1zM6 47h1v2h-1zM7 49h1v2h-1zM8 51h1v1h-1zM9 52h1v2h-1zM10 54h1v1h-1zM11 55h2v1h-2zM13 56h1v1h-1zM14 57h1v1h-1zM15 58h2v1h-2zM17 59h1v1h-1zM18 60h1v1h-1zM19 61h1v2h-1zM20 63h1v1h-1zM21 64h1v2h-1zM22 66h1v1h-1zM23 67h1v2h-1zM24 69h1v2h-1zM25 71h1v2h-1zM26 73h1v2h-1zM27 75h1v2h-1zM28 77h1v2h-1zM29 79h1v2h-1zM30 81h1v2h-1zM31 83h1v2h-1zM32 85h1v1h-1zM33 86h1v1h-1zM34 87h1v2h-1zM35 89h1v1h-1zM36 90h1v1h-1zM37 91h1v1h-1zM38 92h1v1h-1zM39 93h1v1h-1zM40 94h1v2h-1zM41 96h1v1h-1zM42 97h1v1h-1zM43 98h1v1h-1zM44 99h1v1h-1zM45 100h1v1h-1zM46 101h1v1h-1zM47 102h1v1h-1zM48 103h1v1h-1zM49 104h1v1h-1zM50 105h1v1h-1zM51 106h1v1h-1zM52 107h1v1h-1zM53 108h2v1h-2zM55 109h2v1h-2zM57 110h1v1h-1zM58 111h2v1h-2zM60 112h5v1h-5zM65 113h8v1h-8zM73 112h5v1h-5zM78 113h3v1h-3zM81 114h2v1h-2zM83 115h3v1h-3zM86 116h3v1h-3zM89 117h2v1h-2zM91 118h3v1h-3zM94 119h3v1h-3zM97 120h2v1h-2zM99 121h2v1h-2zM101 122h1v1h-1zM102 123h2v1h-2zM104 124h6v1h-6zM110 125h5v1h-5zM115 126h2v1h-2zM117 127h2v1h-2zM119 128h1v1h-1zM120 129h2v1h-2zM122 130h1v1h-1zM123 131h1v1h-1zM124 132h1v2h-1zM125 134h1v1h-1zM126 135h1v1h-1zM127 136h1v1h-1zM128 137h1v2h-1zM129 139h1v1h-1zM130 140h1v1h-1zM131 141h2v1h-2zM133 142h1v1h-1zM134 143h2v1h-2zM136 144h1v1h-1zM137 145h1v1h-1zM138 146h2v1h-2zM140 147h2v1h-2zM142 148h2v1h-2zM144 149h2v1h-2zM146 150h2v1h-2zM148 151h4v1h-4zM152 152h6v1h-6zM158 153h6v1h-6zM164 154h3v1h-3zM167 155h1v1h-1zM168 156h2v1h-2zM170 157h1v1h-1zM171 158h1v1h-1zM172 159h1v1h-1zM173 160h1v2h-1zM174 162h1v2h-1zM175 164h1v1h-1zM176 165h1v2h-1zM177 167h1v2h-1zM178 169h1v1h-1zM179 170h1v2h-1zM180 172h1v2h-1zM181 174h1v2h-1zM182 176h1v2h-1zM183 178h1v2h-1zM184 180h1v2h-1zM185 182h1v2h-1zM186 184h1v2h-1zM187 186h1v3h-1zM188 189h1v2h-1zM189 191h1v2h-1zM190 193h1v3h-1zM191 196h1v3h-1zM192 199h1v2h-1zM193 201h1v3h-1zM194 204h1v3h-1zM195 207h1v2h-1zM196 209h1v3h-1zM197 212h1v3h-1zM198 215h1v2h-1zM199 217h1v3h-1zM200 220h1v3h-1zM201 223h1v3h-1zM202 226h1v2h-1zM203 228h1v3h-1zM204 231h1v3h-1zM205 234h1v2h-1zM206 236h1v3h-1zM207 239h1v2h-1zM208 241h1v2h-1zM209 243h1v2h-1zM210 245h1v2h-1zM211 247h1v2h-1zM212 249h1v2h-1zM213 251h1v2h-1zM214 253h1v2h-1zM215 255h1v1h-1zM216 256h1v2h-1zM217 258h1v2h-1zM218 260h1v1h-1zM219 261h1v1h-1zM220 262h1v1h-1zM221 263h1v1h-1zM222 264h1v2h-1zM223 266h1v1h-1zM224 267h1v1h-1zM225 268h1v1h-1zM226 269h2v1h-2zM228 270h3v1h-3zM231 271h2v1h-2zM233 272h3v1h-3zM236 271h2v1h-2zM238 270h2v1h-2zM240 269h3v1h-3zM243 268h3v1h-3zM246 269h2v1h-2zM248 270h1v1h-1zM249 271h1v1h-1zM250 272h2v1h-2zM252 273h1v1h-1zM253 274h2v1h-2zM255 275h2v1h-2zM257 276h1v1h-1zM258 277h2v1h-2zM260 278h2v1h-2zM262 279h2v1h-2zM264 280h2v1h-2zM266 281h2v1h-2zM268 282h2v1h-2zM270 283h3v1h-3zM273 284h2v1h-2zM275 285h4v1h-4zM279 286h4v1h-4zM283 287h4v1h-4zM287 288h4v1h-4zM291 289h16v1h-16zM307 290h2v1h-2zM309 291h1v1h-1zM310 292h3v1h-3zM313 293h4v1h-4zM317 294h6v1h-6zM323 293h4v1h-4zM327 292h1v1h-1zM328 291h2v1h-2zM330 290h1v1h-1zM331 289h1v1h-1zM332 288h1v1h-1zM333 287h1v1h-1zM334 286h2v1h-2zM336 285h1v1h-1zM337 284h1v1h-1zM338 283h1v1h-1zM339 282h2v1h-2zM341 281h2v1h-2zM343 280h1v1h-1zM344 279h2v1h-2zM346 278h1v1h-1zM347 277h2v1h-2zM349 276h2v1h-2zM351 275h2v1h-2zM353 274h2v1h-2zM355 275h2v1h-2zM357 276h2v1h-2zM359 277h3v1h-3zM362 278h2v1h-2zM364 279h2v1h-2zM366 280h2v1h-2zM368 281h1v1h-1zM369 282h2v1h-2zM371 283h2v1h-2zM373 284h1v1h-1zM374 285h2v1h-2zM376 286h2v1h-2zM378 285h3v1h-3zM381 284h2v1h-2zM383 282h1v2h-1zM384 281h1v1h-1zM385 280h1v1h-1zM386 278h1v2h-1zM387 277h1v1h-1zM388 276h1v1h-1zM389 274h1v2h-1zM390 272h1v2h-1zM391 270h1v2h-1zM392 267h1v3h-1zM393 265h1v2h-1zM394 262h1v3h-1zM395 260h1v2h-1zM396 257h1v3h-1zM397 255h1v2h-1zM398 253h1v2h-1zM399 251h1v2h-1zM400 249h1v2h-1zM401 247h1v2h-1zM402 245h1v2h-1zM403 243h1v2h-1zM404 242h1v1h-1zM405 241h1v1h-1zM406 239h1v2h-1zM407 238h1v1h-1zM408 237h1v1h-1zM409 236h1v1h-1zM410 235h1v1h-1zM411 234h1v1h-1zM412 233h1v1h-1zM413 232h1v1h-1zM414 231h2v1h-2zM416 230h2v1h-2zM418 229h2v1h-2zM420 228h3v1h-3zM423 227h3v1h-3zM426 228h1v1h-1zM427 229h1v1h-1zM428 230h1v1h-1zM429 231h1v1h-1zM430 232h1v1h-1zM431 233h1v1h-1zM432 234h1v1h-1zM433 235h1v2h-1zM434 237h1v1h-1zM435 238h1v1h-1zM436 239h1v1h-1zM437 240h1v2h-1zM438 242h1v1h-1zM439 243h1v2h-1zM440 245h1v1h-1zM441 246h1v2h-1zM442 248h1v1h-1zM443 249h1v2h-1zM444 251h1v1h-1zM445 252h1v1h-1zM446 253h1v2h-1zM447 255h1v1h-1zM448 256h1v1h-1zM449 257h1v1h-1zM450 258h2v1h-2zM452 259h1v1h-1zM453 260h1v1h-1zM454 261h1v1h-1zM455 262h2v1h-2zM457 263h1v1h-1zM458 264h2v1h-2zM460 265h2v1h-2zM462 266h2v1h-2zM464 267h2v1h-2zM466 268h7v1h-7zM473 269h2v1h-2zM475 270h1v1h-1zM476 271h2v1h-2zM478 272h1v1h-1zM479 273h1v1h-1zM480 274h2v1h-2zM482 275h1v1h-1zM483 276h1v1h-1zM484 277h2v1h-2zM486 278h2v1h-2zM488 279h2v1h-2zM490 280h2v1h-2zM492 281h2v1h-2zM494 282h2v1h-2zM496 283h1v1h-1zM497 284h1v1h-1zM498 285h2v1h-2zM500 286h1v1h-1zM501 287h1v1h-1zM502 288h1v1h-1zM503 289h1v1h-1zM504 290h1v1h-1zM505 291h1v1h-1zM506 292h1v1h-1zM507 293h2v1h-2zM509 294h3v1h-3zM512 293h2v1h-2zM514 292h2v1h-2zM516 291h1v1h-1zM517 289h1v2h-1zM518 288h1v1h-1zM519 287h1v1h-1zM520 286h1v1h-1zM521 285h1v1h-1zM522 284h1v1h-1zM523 282h1v2h-1zM524 281h1v1h-1zM525 280h1v1h-1zM526 279h1v1h-1zM527 278h2v1h-2zM529 277h1v1h-1zM530 276h2v1h-2zM532 275h7v1h-7zM539 276h2v1h-2zM541 277h1v1h-1zM542 278h2v1h-2zM544 279h2v1h-2zM546 280h2v1h-2zM548 281h10v1h-10zM558 282h4v1h-4zM562 283h2v1h-2zM564 284h2v1h-2zM566 285h4v1h-4zM570 284h4v1h-4zM574 283h2v1h-2zM576 282h2v1h-2zM578 281h1v1h-1zM579 280h1v1h-1zM580 278h1v2h-1zM581 277h1v1h-1zM582 276h1v1h-1zM583 275h1v1h-1zM584 274h2v1h-2zM586 273h1v1h-1zM587 272h7v1h-7zM594 273h2v1h-2zM596 274h2v1h-2zM598 275h4v1h-4zM602 276h3v1h-3zM605 277h1v1h-1zM606 278h2v1h-2zM608 279h1v1h-1zM609 280h1v1h-1zM610 281h1v1h-1zM611 282h1v1h-1zM612 283h2v1h-2zM614 284h1v1h-1zM615 285h1v1h-1zM616 286h2v1h-2zM618 287h2v1h-2zM620 288h2v1h-2zM622 289h1v1h-1zM623 290h1v1h-1zM624 291h1v1h-1zM625 292h1v2h-1zM626 294h1v1h-1zM627 295h1v1h-1zM628 296h1v2h-1zM629 298h1v2h-1zM630 300h1v2h-1zM631 302h1v3h-1zM632 305h1v2h-1zM633 307h1v2h-1zM634 309h1v3h-1zM635 312h1v2h-1zM636 314h1v2h-1zM637 316h1v3h-1zM638 319h1v2h-1zM639 321h1v2h-1zM640 323h1v3h-1zM641 326h1v2h-1zM642 328h1v2h-1zM643 330h1v2h-1zM644 332h1v2h-1zM645 334h1v2h-1zM646 336h1v3h-1zM647 339h1v2h-1zM648 341h1v2h-1zM649 343h1v2h-1zM650 345h1v2h-1zM651 347h1v2h-1zM652 349h1v2h-1zM653 351h1v2h-1zM654 353h1v2h-1zM655 355h1v1h-1zM656 356h1v2h-1zM657 358h1v2h-1zM658 360h1v1h-1zM659 361h1v1h-1zM660 362h1v1h-1zM661 363h1v2h-1zM662 365h1v1h-1zM663 366h1v1h-1zM664 367h1v1h-1zM665 368h1v1h-1zM666 369h2v1h-2zM668 370h1v1h-1zM669 371h1v1h-1zM670 372h1v1h-1zM671 373h2v1h-2zM673 374h1v1h-1zM674 375h2v1h-2zM676 376h1v1h-1zM677 377h2v1h-2zM679 378h1v1h-1zM680 379h2v1h-2zM682 380h2v1h-2zM684 381h2v1h-2zM686 382h2v1h-2zM688 383h4v1h-4zM692 384h10v1h-10zM702 383h3v1h-3zM705 382h3v1h-3zM708 381h3v1h-3zM711 380h11v1h-11zM722 381h6v1h-6zM728 382h3v1h-3zM731 383h1v1h-1zM732 384h2v1h-2zM734 385h1v1h-1zM735 386h1v1h-1zM736 387h1v1h-1zM737 388h1v1h-1zM738 389h2v1h-2zM740 390h1v1h-1zM741 391h1v1h-1zM742 392h1v1h-1zM743 393h1v1h-1zM744 394h1v2h-1zM745 396h1v1h-1zM746 397h2v1h-2zM748 398h2v1h-2zM750 399h5v1h-5zM755 398h2v1h-2zM757 397h1v1h-1zM758 396h2v1h-2zM760 395h2v1h-2zM762 394h2v1h-2zM764 393h2v1h-2zM766 392h3v1h-3zM769 391h2v1h-2zM771 390h1v1h-1zM772 388h1v2h-1zM773 387h1v1h-1zM774 386h1v1h-1zM775 385h1v1h-1zM776 384h1v1h-1zM777 382h1v2h-1zM778 381h1v1h-1zM779 380h1v1h-1zM780 379h1v1h-1zM781 378h2v1h-2zM783 377h1v1h-1zM784 376h2v1h-2zM786 375h2v1h-2zM788 374h2v1h-2zM790 373h2v1h-2zM792 374h2v1h-2zM794 375h2v1h-2zM796 376h4v1h-4zM800 377h12v1h-12zM812 378h6v1h-6zM818 379h4v1h-4zM822 378h3v1h-3zM825 377h3v1h-3zM828 376h2v1h-2zM830 375h1v1h-1zM831 373h1v2h-1zM832 372h1v1h-1zM833 370h1v2h-1zM834 369h1v1h-1zM835 367h1v2h-1zM836 365h1v2h-1zM837 363h1v2h-1zM838 362h1v1h-1zM839 360h1v2h-1zM840 359h1v1h-1zM841 357h1v2h-1zM842 356h1v1h-1zM843 354h1v2h-1zM844 353h1v1h-1zM845 351h1v2h-1zM846 350h1v1h-1zM847 349h1v1h-1zM848 347h1v2h-1zM849 346h1v1h-1zM850 345h1v1h-1zM851 344h1v1h-1zM852 343h1v1h-1zM853 342h1v1h-1zM854 341h4v1h-4zM858 340h6v1h-6zM864 341h4v1h-4zM868 342h2v1h-2zM870 343h1v1h-1zM871 344h2v1h-2zM873 345h1v1h-1zM874 346h2v1h-2zM876 347h2v1h-2z" fill="#ffc800"/>
<path d="M5 61h1v1h-1zM6 62h1v1h-1zM7 63h1v1h-1zM8 64h1v1h-1zM9 65h8v1h-8zM17 66h1v1h-1zM18 67h2v1h-2zM20 68h1v1h-1zM21 69h1v2h-1zM22 71h1v2h-1zM23 73h1v3h-1zM24 76h1v2h-1zM25 78h1v2h-1zM26 80h1v3h-1zM27 83h1v3h-1zM28 86h1v4h-1zM29 90h1v3h-1zM30 93h1v3h-1zM31 96h1v4h-1zM32 100h1v3h-1zM33 103h1v4h-1zM34 107h1v3h-1zM35 110h1v4h-1zM36 114h1v4h-1zM37 118h1v2h-1zM38 120h1v1h-1zM39 121h1v1h-1zM40 122h2v1h-2zM42 121h4v1h-4zM46 120h2v1h-2zM48 118h1v2h-1zM49 116h1v2h-1zM50 115h1v1h-1zM51 113h1v2h-1zM52 112h1v1h-1zM53 110h1v2h-1zM54 109h1v1h-1zM55 107h1v2h-1zM56 106h5v1h-5zM61 107h7v1h-7zM68 108h3v1h-3zM71 109h1v1h-1zM72 110h1v2h-1zM73 112h1v1h-1zM74 113h1v1h-1zM75 114h1v1h-1zM76 115h1v2h-1zM77 117h1v1h-1zM78 118h3v1h-3zM81 117h3v1h-3zM84 118h1v2h-1zM85 120h1v1h-1zM86 121h1v1h-1zM87 122h1v2h-1zM88 124h1v1h-1zM89 123h1v1h-1zM90 122h1v1h-1zM91 121h1v1h-1zM92 120h1v1h-1zM93 119h2v1h-2zM95 118h1v1h-1zM96 119h1v1h-1zM97 120h1v1h-1zM98 121h1v1h-1zM99 122h2v1h-2zM101 123h1v1h-1zM102 124h2v1h-2zM104 125h4v1h-4zM108 126h3v1h-3zM111 127h1v1h-1zM112 128h1v1h-1zM113 129h1v1h-1zM114 130h1v1h-1zM115 131h1v1h-1zM116 132h1v1h-1zM117 133h1v2h-1zM118 135h1v1h-1zM119 136h1v1h-1zM120 137h1v2h-1zM121 139h1v1h-1zM122 140h1v1h-1zM123 141h1v2h-1zM124 143h1v2h-1zM125 145h1v2h-1zM126 147h1v1h-1zM127 148h1v1h-1zM128 149h1v1h-1zM129 150h1v1h-1zM130 151h1v2h-1zM131 153h1v2h-1zM132 155h4v1h-4zM136 156h6v1h-6zM142 155h4v1h-4zM146 154h1v1h-1zM147 152h1v2h-1zM148 151h1v1h-1zM149 150h2v1h-2zM151 149h2v1h-2zM153 148h2v1h-2zM155 149h2v1h-2zM157 150h2v1h-2zM159 151h3v1h-3zM162 152h3v1h-3zM165 151h2v1h-2zM166 152h1v1h-1zM167 153h1v3h-1zM168 156h1v3h-1zM169 159h1v4h-1zM170 163h1v4h-1zM171 167h1v4h-1zM172 171h1v3h-1zM173 174h1v3h-1zM174 177h1v2h-1zM175 179h1v3h-1zM176 182h1v3h-1zM177 185h1v2h-1zM178 187h1v3h-1zM179 190h1v3h-1zM180 193h1v3h-1zM181 196h1v4h-1zM182 200h1v3h-1zM183 203h1v3h-1zM184 206h1v3h-1zM185 209h1v3h-1zM186 212h1v3h-1zM187 215h1v2h-1zM188 217h1v3h-1zM189 220h1v3h-1zM190 223h1v3h-1zM191 226h1v3h-1zM192 229h1v3h-1zM193 232h1v3h-1zM194 235h1v3h-1zM195 238h1v3h-1zM196 241h1v3h-1zM197 244h1v3h-1zM198 247h1v2h-1zM199 249h1v3h-1zM200 252h1v3h-1zM201 255h1v2h-1zM202 257h1v2h-1zM203 259h1v2h-1zM204 261h1v1h-1zM205 262h1v2h-1zM206 264h1v1h-1zM207 265h1v2h-1zM208 267h6v1h-6zM214 266h2v1h-2zM216 265h2v1h-2zM218 266h1v1h-1zM219 267h1v2h-1zM220 269h1v1h-1zM221 270h1v1h-1zM222 271h3v1h-3zM225 272h3v1h-3zM228 273h1v1h-1zM229 274h1v1h-1zM230 275h1v1h-1zM231 276h2v1h-2zM233 277h2v1h-2zM235 278h1v1h-1zM236 277h1v1h-1zM237 276h1v1h-1zM238 275h1v1h-1zM239 274h1v1h-1zM240 272h1v2h-1zM241 271h1v1h-1zM242 269h1v2h-1zM243 268h4v1h-4zM247 269h1v1h-1zM248 270h2v1h-2zM250 271h1v1h-1zM251 272h1v1h-1zM252 273h1v1h-1zM253 274h1v1h-1zM254 275h1v1h-1zM255 276h1v1h-1zM256 277h1v1h-1zM257 278h1v1h-1zM258 279h1v2h-1zM259 281h1v3h-1zM260 284h1v2h-1zM261 286h1v3h-1zM262 289h1v2h-1zM263 291h1v1h-1zM264 292h1v2h-1zM265 294h1v1h-1zM266 295h8v1h-8zM274 294h2v1h-2zM276 293h1v1h-1zM277 291h1v2h-1zM278 290h1v1h-1zM279 288h1v2h-1zM280 287h1v1h-1zM281 285h1v2h-1zM282 284h1v1h-1zM283 283h2v1h-2zM285 282h1v1h-1zM286 281h2v1h-2zM288 280h2v1h-2zM290 281h3v1h-3zM293 282h2v1h-2zM295 283h1v1h-1zM296 284h1v2h-1zM297 286h1v1h-1zM298 287h1v1h-1zM299 288h1v1h-1zM300 289h1v2h-1zM301 291h1v2h-1zM302 293h1v2h-1zM303 295h1v1h-1zM304 296h1v2h-1zM305 298h1v1h-1zM306 299h1v1h-1zM307 300h1v2h-1zM308 302h1v1h-1zM309 303h1v1h-1zM310 304h2v1h-2zM312 305h1v1h-1zM313 306h1v1h-1zM314 305h2v1h-2zM316 304h2v1h-2zM318 303h1v1h-1zM319 301h1v2h-1zM320 300h1v1h-1zM321 299h1v1h-1zM322 297h1v2h-1zM323 295h1v2h-1zM324 293h1v2h-1zM325 291h1v2h-1zM326 289h1v2h-1zM327 287h1v2h-1zM328 285h1v2h-1zM329 283h1v2h-1zM330 281h1v2h-1zM331 279h1v2h-1zM332 277h1v2h-1zM333 275h1v2h-1zM334 273h1v2h-1zM335 272h1v1h-1zM336 271h1v1h-1zM337 269h1v2h-1zM338 268h1v1h-1zM339 267h2v1h-2zM341 266h1v1h-1zM342 267h1v1h-1zM343 268h1v1h-1zM344 269h1v1h-1zM345 270h1v1h-1zM346 271h1v1h-1zM347 272h2v1h-2zM349 273h1v1h-1zM350 274h1v1h-1zM351 275h1v2h-1zM352 277h1v1h-1zM353 278h1v2h-1zM354 280h1v1h-1zM355 281h1v2h-1zM356 283h1v2h-1zM357 285h1v2h-1zM358 287h1v1h-1zM359 288h2v1h-2zM361 289h1v1h-1zM362 290h4v1h-4zM366 289h10v1h-10zM376 288h2v1h-2zM378 286h1v2h-1zM379 284h1v2h-1zM380 282h1v2h-1zM381 280h1v2h-1zM382 277h1v3h-1zM383 274h1v3h-1zM384 271h1v3h-1zM385 268h1v3h-1zM386 265h1v3h-1zM387 263h1v2h-1zM388 261h1v2h-1zM389 259h1v2h-1zM390 255h1v4h-1zM391 251h1v4h-1zM392 247h1v4h-1zM393 243h1v4h-1zM394 239h1v4h-1zM395 235h1v4h-1zM396 232h1v3h-1zM397 228h1v4h-1zM398 225h1v3h-1zM399 223h1v2h-1zM400 221h1v2h-1zM401 219h1v2h-1zM402 217h1v2h-1zM403 216h2v1h-2zM405 215h1v1h-1zM406 214h3v1h-3zM409 215h2v1h-2zM411 216h1v2h-1zM412 218h1v1h-1zM413 219h1v2h-1zM414 221h1v2h-1zM415 223h1v2h-1zM416 225h1v2h-1zM417 227h1v2h-1zM418 229h1v2h-1zM419 231h1v2h-1zM420 233h1v2h-1zM421 235h1v2h-1zM422 237h1v2h-1zM423 239h1v1h-1zM424 240h1v2h-1zM425 242h1v1h-1zM426 243h1v1h-1zM427 244h1v2h-1zM428 246h1v1h-1zM429 247h1v1h-1zM430 248h2v1h-2zM432 249h1v1h-1zM433 250h3v1h-3zM436 251h3v1h-3zM439 252h2v1h-2zM441 253h1v1h-1zM442 254h1v2h-1zM443 256h1v2h-1zM444 258h1v2h-1zM445 260h1v2h-1zM446 262h1v2h-1zM447 264h1v2h-1zM448 266h1v1h-1zM449 267h1v1h-1zM450 268h1v2h-1zM451 270h1v1h-1zM452 271h1v1h-1zM453 272h2v1h-2zM455 273h1v1h-1zM456 274h1v1h-1zM457 275h1v1h-1zM458 276h2v1h-2zM460 277h1v1h-1zM461 278h1v1h-1zM462 277h1v1h-1zM463 276h2v1h-2zM465 275h1v1h-1zM466 274h1v1h-1zM467 273h1v1h-1zM468 271h1v2h-1zM469 270h1v1h-1zM470 269h1v1h-1zM471 268h1v1h-1zM472 267h2v1h-2zM474 266h1v1h-1zM475 267h1v1h-1zM476 268h1v1h-1zM477 269h1v1h-1zM478 270h1v1h-1zM479 271h1v2h-1zM480 273h1v2h-1zM481 275h1v2h-1zM482 277h1v1h-1zM483 278h1v2h-1zM484 280h1v2h-1zM485 282h1v2h-1zM486 284h1v2h-1zM487 286h1v2h-1zM488 288h1v2h-1zM489 290h1v2h-1zM490 292h1v1h-1zM491 293h1v2h-1zM492 295h1v1h-1zM493 296h1v2h-1zM494 298h1v1h-1zM495 299h2v1h-2zM497 300h1v1h-1zM498 301h3v1h-3zM501 300h3v1h-3zM504 299h2v1h-2zM506 298h1v1h-1zM507 297h1v1h-1zM508 295h1v2h-1zM509 294h1v1h-1zM510 293h1v1h-1zM511 292h1v1h-1zM512 290h1v2h-1zM513 289h1v1h-1zM514 287h1v2h-1zM515 285h1v2h-1zM516 283h1v2h-1zM517 281h1v2h-1zM518 279h1v2h-1zM519 277h1v2h-1zM520 274h1v3h-1zM521 272h1v2h-1zM522 269h1v3h-1zM523 267h1v2h-1zM524 264h1v3h-1zM525 262h1v2h-1zM526 260h1v2h-1zM527 259h1v1h-1zM528 258h1v1h-1zM529 257h2v1h-2zM531 258h2v1h-2zM533 259h1v2h-1zM534 261h1v2h-1zM535 263h1v3h-1zM536 266h1v2h-1zM537 268h1v3h-1zM538 271h1v3h-1zM539 274h1v3h-1zM540 277h1v4h-1zM541 281h1v4h-1zM542 285h1v4h-1zM543 289h1v3h-1zM544 292h1v3h-1zM545 295h1v2h-1zM546 297h1v2h-1zM547 299h1v2h-1zM548 301h1v1h-1zM549 302h5v1h-5zM554 300h1v2h-1zM555 299h1v1h-1zM556 297h1v2h-1zM557 295h1v2h-1zM558 292h1v3h-1zM559 289h1v3h-1zM560 286h1v3h-1zM561 283h1v3h-1zM562 279h1v4h-1zM563 276h1v3h-1zM564 272h1v4h-1zM565 270h1v2h-1zM566 268h1v2h-1zM567 267h1v1h-1zM568 266h3v1h-3zM571 265h3v1h-3zM574 266h1v2h-1zM575 268h1v1h-1zM576 269h1v1h-1zM577 270h1v2h-1zM578 272h1v1h-1zM579 273h1v2h-1zM580 275h1v1h-1zM581 276h2v1h-2zM583 277h1v1h-1zM584 278h9v1h-9zM593 279h3v1h-3zM596 278h2v1h-2zM598 277h6v1h-6zM604 278h2v1h-2zM606 279h1v1h-1zM607 280h1v1h-1zM608 281h1v1h-1zM609 282h1v1h-1zM610 283h1v1h-1zM611 284h1v2h-1zM612 286h1v1h-1zM613 287h1v2h-1zM614 289h1v1h-1zM615 290h1v2h-1zM616 292h1v1h-1zM617 293h1v1h-1zM618 294h1v2h-1zM619 296h1v1h-1zM620 297h1v2h-1zM621 299h1v1h-1zM622 300h1v1h-1zM623 301h1v2h-1zM624 303h1v2h-1zM625 305h1v2h-1zM626 307h1v2h-1zM627 309h1v2h-1zM628 311h1v2h-1zM629 313h1v2h-1zM630 315h1v4h-1zM631 319h1v3h-1zM632 322h1v3h-1zM633 325h1v4h-1zM634 329h1v3h-1zM635 332h1v3h-1zM636 335h1v4h-1zM637 339h1v3h-1zM638 342h1v3h-1zM639 345h1v3h-1zM640 348h1v2h-1zM641 350h1v3h-1zM642 353h1v3h-1zM643 356h1v2h-1zM644 358h1v3h-1zM645 361h1v2h-1zM646 363h1v2h-1zM647 365h1v2h-1zM648 367h1v2h-1zM649 369h1v2h-1zM650 371h4v1h-4zM654 372h4v1h-4zM658 373h3v1h-3zM661 374h9v1h-9zM670 375h2v1h-2zM672 376h2v1h-2zM674 377h2v1h-2zM676 378h2v1h-2zM678 379h2v1h-2zM680 380h1v1h-1zM681 381h1v2h-1zM682 383h1v1h-1zM683 384h1v1h-1zM684 385h1v2h-1zM685 387h1v1h-1zM686 388h1v1h-1zM687 389h1v1h-1zM688 390h2v1h-2zM690 391h1v1h-1zM691 392h1v1h-1zM692 393h3v1h-3zM695 392h2v1h-2zM696 391h1v1h-1zM697 389h1v2h-1zM698 387h1v2h-1zM699 385h1v2h-1zM700 382h1v3h-1zM701 380h1v2h-1zM702 378h1v2h-1zM703 376h1v2h-1zM704 375h1v1h-1zM705 374h1v1h-1zM706 373h2v1h-2zM708 372h1v1h-1zM709 371h3v1h-3zM712 370h2v1h-2zM714 371h1v1h-1zM715 372h1v1h-1zM716 373h1v1h-1zM717 374h1v1h-1zM718 375h1v2h-1zM719 377h1v2h-1zM720 379h1v1h-1zM721 380h1v2h-1zM722 382h1v1h-1zM723 383h1v2h-1zM724 385h1v1h-1zM725 386h1v1h-1zM726 387h1v2h-1zM727 389h1v1h-1zM728 390h1v2h-1zM729 392h1v1h-1zM730 393h1v1h-1zM731 394h1v2h-1zM732 396h1v1h-1zM733 397h1v2h-1zM734 399h1v1h-1zM735 400h1v2h-1zM736 402h1v1h-1zM737 403h2v1h-2zM739 404h1v1h-1zM740 405h3v1h-3zM743 406h3v1h-3zM746 405h2v1h-2zM748 404h1v1h-1zM749 403h1v1h-1zM750 402h1v1h-1zM751 401h1v1h-1zM752 400h1v1h-1zM753 398h1v2h-1zM754 397h1v1h-1zM755 395h1v2h-1zM756 394h1v1h-1zM757 392h1v2h-1zM758 391h1v1h-1zM759 389h1v2h-1zM760 388h1v1h-1zM761 386h1v2h-1zM762 385h1v1h-1zM763 383h1v2h-1zM764 382h2v1h-2zM766 381h2v1h-2zM768 380h1v1h-1zM769 379h1v1h-1zM770 378h1v1h-1zM771 377h1v1h-1zM772 376h1v1h-1zM773 375h2v1h-2zM775 374h1v1h-1zM776 373h3v1h-3zM779 372h4v1h-4zM783 371h4v1h-4zM787 370h2v1h-2zM789 371h2v1h-2zM791 372h1v1h-1zM792 373h1v1h-1zM793 374h1v1h-1zM794 375h1v1h-1zM795 376h1v1h-1zM796 377h1v1h-1zM797 378h1v1h-1zM798 379h1v1h-1zM799 380h1v1h-1zM800 381h2v1h-2zM802 382h2v1h-2zM804 383h6v1h-6zM810 382h2v1h-2zM812 381h2v1h-2zM814 380h2v1h-2zM816 379h2v1h-2zM818 378h2v1h-2zM820 377h2v1h-2zM822 376h2v1h-2zM824 375h1v1h-1zM825 374h1v1h-1zM826 373h1v1h-1zM827 372h1v1h-1zM828 370h1v2h-1zM829 368h1v2h-1zM830 366h1v2h-1zM831 364h1v2h-1zM832 361h1v3h-1zM833 359h1v2h-1zM834 356h1v3h-1zM835 354h1v2h-1zM836 351h1v3h-1zM837 349h1v2h-1zM838 347h1v2h-1zM839 345h1v2h-1zM840 342h1v3h-1zM841 340h1v2h-1zM842 338h1v2h-1zM843 336h1v2h-1zM844 334h1v2h-1zM845 332h1v2h-1zM846 331h1v1h-1zM847 329h1v2h-1zM848 328h2v1h-2zM850 327h2v1h-2zM852 326h2v1h-2zM854 327h2v1h-2zM855 328h1v1h-1zM856 329h1v2h-1zM857 331h1v2h-1zM858 333h1v2h-1zM859 335h1v3h-1zM860 338h1v2h-1zM861 340h1v3h-1zM862 343h1v2h-1zM863 345h1v2h-1zM864 347h1v2h-1zM865 349h1v2h-1zM866 351h1v2h-1zM867 353h1v2h-1zM868 355h1v2h-1zM869 357h1v2h-1zM870 359h1v1h-1zM871 360h1v1h-1zM872 361h1v1h-1zM873 362h1v1h-1zM874 363h2v1h-2zM876 364h1v1h-1zM877 365h1v1h-1z" fill="#ff0000"/>
</g>
<g shape-rendering="crispEdges">
<rect x="5" y="239" width="1103" height="2" fill="#ff0000"/>
<rect x="5" y="291" width="1103" height="2" fill="#ff0000"/>
<rect x="5" y="337" width="1103" height="2" fill="#00ff00"/>
<rect x="5" y="386" width="1103" height="2" fill="#0000ff"/>
<rect x="5" y="433" width="1103" height="2" fill="#0000ff"/>
</g>
<g shape-rendering="crispEdges">
<rect x="5" y="467" width="1" height="11" fill="#c0c0c0"/>
<rect x="9" y="467" width="1" height="13" fill="#c0c0c0"/>
<rect x="13" y="467" width="1" height="13" fill="#c0c0c0"/>
<rect x="17" y="467" width="1" height="15" fill="#c0c0c0"/>
<rect x="21" y="467" width="1" height="18" fill="#c0c0c0"/>
<rect x="25" y="467" width="1" height="23" fill="#c0c0c0"/>
<rect x="29" y="467" width="1" height="27" fill="#c0c0c0"/>
<rect x="33" y="467" width="1" height="29" fill="#c0c0c0"/>
<rect x="37" y="467" width="1" height="28" fill="#c0c0c0"/>
<rect x="41" y="467" width="1" height="26" fill="#c0c0c0"/>
<rect x="45" y="467" width="1" height="25" fill="#c0c0c0"/>
<rect x="49" y="467" width="1" height="23" fill="#c0c0c0"/>
<rect x="53" y="467" width="1" height="22" fill="#c0c0c0"/>
<rect x="57" y="467" width="1" height="21" fill="#c0c0c0"/>
<rect x="61" y="467" width="1" height="21" fill="#c0c0c0"/>
<rect x="65" y="467" width="1" height="22" fill="#c0c0c0"/>
<rect x="69" y="467" width="1" height="23" fill="#c0c0c0"/>
<rect x="73" y="467" width="1" height="21" fill="#c0c0c0"/>
<rect x="77" y="467" width="1" height="20" fill="#c0c0c0"/>
<rect x="81" y="467" width="1" height="19" fill="#c0c0c0"/>
<rect x="85" y="467" width="1" height="18" fill="#c0c0c0"/>
<rect x="89" y="467" width="1" height="18" fill="#c0c0c0"/>
<rect x="93" y="467" width="1" height="17" fill="#c0c0c0"/>
<rect x="97" y="467" width="1" height="18" fill="#c0c0c0"/>
<rect x="101" y="467" width="1" height="17" fill="#c0c0c0"/>
<rect x="105" y="467" width="1" height="16" fill="#c0c0c0"/>
<rect x="109" y="467" width="1" height="15" fill="#c0c0c0"/>
<rect x="113" y="467" width="1" height="16" fill="#c0c0c0"/>
<rect x="117" y="467" width="1" height="17" fill="#c0c0c0"/>
<rect x="121" y="467" width="1" height="18" fill="#c0c0c0"/>
<rect x="125" y="467" width="1" height="19" fill="#c0c0c0"/>
<rect x="129" y="467" width="1" height="20" fill="#c0c0c0"/>
<rect x="133" y="467" width="1" height="18" fill="#c0c0c0"/>
<rect x="137" y="467" width="1" height="17" fill="#c0c0c0"/>
<rect x="141" y="467" width="1" height="18" fill="#c0c0c0"/>
<rect x="145" y="467" width="1" height="17" fill="#c0c0c0"/>
<rect x="149" y="467" width="1" height="15" fill="#c0c0c0"/>
<rect x="153" y="467" width="1" height="14" fill="#c0c0c0"/>
<rect x="157" y="467" width="1" height="15" fill="#c0c0c0"/>
<rect x="161" y="467" width="1" height="16" fill="#c0c0c0"/>
<rect x="165" y="467" width="1" height="15" fill="#c0c0c0"/>
<rect x="169" y="467" width="1" height="16" fill="#c0c0c0"/>
<rect x="173" y="467" width="1" height="20" fill="#c0c0c0"/>
<rect x="177" y="467" width="1" height="24" fill="#c0c0c0"/>
<rect x="181" y="467" width="1" height="27" fill="#c0c0c0"/>
<rect x="185" y="467" width="1" height="30" fill="#c0c0c0"/>
<rect x="189" y="467" width="1" height="32" fill="#c0c0c0"/>
<rect x="193" y="467" width="1" height="35" fill="#c0c0c0"/>
<rect x="197" y="467" width="1" height="38" fill="#c0c0c0"/>
<rect x="201" y="467" width="1" height="41" fill="#c0c0c0"/>
<rect x="205" y="467" width="1" height="42" fill="#c0c0c0"/>
<rect x="209" y="467" width="1" height="42" fill="#c0c0c0"/>
<rect x="213" y="467" width="1" height="41" fill="#c0c0c0"/>
<rect x="217" y="467" width="1" height="41" fill="#c0c0c0"/>
<rect x="221" y="467" width="1" height="40" fill="#c0c0c0"/>
<rect x="225" y="467" width="1" height="39" fill="#c0c0c0"/>
<rect x="229" y="467" width="1" height="39" fill="#c0c0c0"/>
<rect x="233" y="467" width="1" height="37" fill="#c0c0c0"/>
<rect x="237" y="467" width="1" height="35" fill="#c0c0c0"/>
<rect x="241" y="467" width="1" height="31" fill="#c0c0c0"/>
<rect x="245" y="467" width="1" height="31" fill="#c0c0c0"/>
<rect x="249" y="467" width="1" height="31" fill="#c0c0c0"/>
<rect x="253" y="467" width="1" height="30" fill="#c0c0c0"/>
<rect x="257" y="467" width="1" height="30" fill="#c0c0c0"/>
<rect x="261" y="467" width="1" height="31" fill="#c0c0c0"/>
<rect x="265" y="467" width="1" height="31" fill="#c0c0c0"/>
<rect x="269" y="467" width="1" height="29" fill="#c0c0c0"/>
<rect x="273" y="467" width="1" height="27" fill="#c0c0c0"/>
<rect x="277" y="467" width="1" height="25" fill="#c0c0c0"/>
<rect x="281" y="467" width="1" height="21" fill="#c0c0c0"/>
<rect x="285" y="467" width="1" height="21" fill="#c0c0c0"/>
<rect x="289" y="467" width="1" height="19" fill="#c0c0c0"/>
<rect x="293" y="467" width="1" height="19" fill="#c0c0c0"/>
<rect x="297" y="467" width="1" height="19" fill="#c0c0c0"/>
<rect x="301" y="467" width="1" height="19" fill="#c0c0c0"/>
<rect x="305" y="467" width="1" height="20" fill="#c0c0c0"/>
<rect x="309" y="467" width="1" height="21" fill="#c0c0c0"/>
<rect x="313" y="467" width="1" height="19" fill="#c0c0c0"/>
<rect x="317" y="467" width="1" height="17" fill="#c0c0c0"/>
<rect x="321" y="467" width="1" height="15" fill="#c0c0c0"/>
<rect x="325" y="467" width="1" height="11" fill="#c0c0c0"/>
<rect x="329" y="467" width="1" height="8" fill="#c0c0c0"/>
<rect x="333" y="467" width="1" height="5" fill="#c0c0c0"/>
<rect x="337" y="467" width="1" height="3" fill="#c0c0c0"/>
<rect x="341" y="467" width="1" height="1" fill="#c0c0c0"/>
<rect x="345" y="467" width="1" height="3" fill="#c0c0c0"/>
<rect x="349" y="467" width="1" height="3" fill="#c0c0c0"/>
<rect x="353" y="467" width="1" height="5" fill="#c0c0c0"/>
<rect x="357" y="467" width="1" height="5" fill="#c0c0c0"/>
<rect x="361" y="467" width="1" height="5" fill="#c0c0c0"/>
<rect x="365" y="467" width="1" height="5" fill="#c0c0c0"/>
<rect x="369" y="467" width="1" height="5" fill="#c0c0c0"/>
<rect x="373" y="467" width="1" height="5" fill="#c0c0c0"/>
<rect x="377" y="467" width="1" height="4" fill="#c0c0c0"/>
<rect x="381" y="467" width="1" height="2" fill="#c0c0c0"/>
<rect x="385" y="466" width="1" height="2" fill="#c0c0c0"/>
<rect x="389" y="462" width="1" height="6" fill="#c0c0c0"/>
<rect x="393" y="458" width="1" height="10" fill="#c0c0c0"/>
<rect x="397" y="453" width="1" height="15" fill="#c0c0c0"/>
<rect x="401" y="450" width="1" height="18" fill="#c0c0c0"/>
<rect x="405" y="450" width="1" height="18" fill="#c0c0c0"/>
<rect x="409" y="450" width="1" height="18" fill="#c0c0c0"/>
<rect x="413" y="452" width="1" height="16" fill="#c0c0c0"/>
<rect x="417" y="454" width="1" height="14" fill="#c0c0c0"/>
<rect x="421" y="455" width="1" height="13" fill="#c0c0c0"/>
<rect x="425" y="456" width="1" height="12" fill="#c0c0c0"/>
<rect x="429" y="459" width="1" height="9" fill="#c0c0c0"/>
<rect x="433" y="461" width="1" height="7" fill="#c0c0c0"/>
<rect x="437" y="462" width="1" height="6" fill="#c0c0c0"/>
<rect x="441" y="463" width="1" height="5" fill="#c0c0c0"/>
<rect x="445" y="466" width="1" height="2" fill="#c0c0c0"/>
<rect x="449" y="466" width="1" height="2" fill="#c0c0c0"/>
<rect x="453" y="467" width="1" height="4" fill="#c0c0c0"/>
<rect x="457" y="467" width="1" height="4" fill="#c0c0c0"/>
<rect x="461" y="467" width="1" height="4" fill="#c0c0c0"/>
<rect x="465" y="467" width="1" height="4" fill="#c0c0c0"/>
<rect x="469" y="467" width="1" height="3" fill="#c0c0c0"/>
<rect x="473" y="467" width="1" height="4" fill="#c0c0c0"/>
<rect x="477" y="467" width="1" height="5" fill="#c0c0c0"/>
<rect x="481" y="467" width="1" height="7" fill="#c0c0c0"/>
<rect x="485" y="467" width="1" height="10" fill="#c0c0c0"/>
<rect x="489" y="467" width="1" height="11" fill="#c0c0c0"/>
<rect x="493" y="467" width="1" height="12" fill="#c0c0c0"/>
<rect x="497" y="467" width="1" height="13" fill="#c0c0c0"/>
<rect x="501" y="467" width="1" height="13" fill="#c0c0c0"/>
<rect x="505" y="467" width="1" height="13" fill="#c0c0c0"/>
<rect x="509" y="467" width="1" height="11" fill="#c0c0c0"/>
<rect x="513" y="467" width="1" height="8" fill="#c0c0c0"/>
<rect x="517" y="467" width="1" height="5" fill="#c0c0c0"/>
<rect x="521" y="467" width="1" height="1" fill="#c0c0c0"/>
<rect x="525" y="467" width="1" height="1" fill="#c0c0c0"/>
<rect x="529" y="467" width="1" height="1" fill="#c0c0c0"/>
<rect x="533" y="467" width="1" height="1" fill="#c0c0c0"/>
<rect x="537" y="467" width="1" height="4" fill="#c0c0c0"/>
<rect x="541" y="467" width="1" height="7" fill="#c0c0c0"/>
<rect x="545" y="467" width="1" height="11" fill="#c0c0c0"/>
<rect x="549" y="467" width="1" height="9" fill="#c0c0c0"/>
<rect x="553" y="467" width="1" height="7" fill="#c0c0c0"/>
<rect x="557" y="467" width="1" height="4" fill="#c0c0c0"/>
<rect x="561" y="467" width="1" height="2" fill="#c0c0c0"/>
<rect x="565" y="467" width="1" height="1" fill="#c0c0c0"/>
<rect x="569" y="467" width="1" height="1" fill="#c0c0c0"/>
<rect x="573" y="467" width="1" height="1" fill="#c0c0c0"/>
<rect x="577" y="467" width="1" height="1" fill="#c0c0c0"/>
<rect x="581" y="467" width="1" height="1" fill="#c0c0c0"/>
<rect x="585" y="467" width="1" height="1" fill="#c0c0c0"/>
<rect x="589" y="467" width="1" height="1" fill="#c0c0c0"/>
<rect x="593" y="467" width="1" height="1" fill="#c0c0c0"/>
<rect x="597" y="467" width="1" height="1" fill="#c0c0c0"/>
<rect x="601" y="467" width="1" height="1" fill="#c0c0c0"/>
<rect x="605" y="467" width="1" height="1" fill="#c0c0c0"/>
<rect x="609" y="467" width="1" height="2" fill="#c0c0c0"/>
<rect x="613" y="467" width="1" height="4" fill="#c0c0c0"/>
<rect x="617" y="467" width="1" height="6" fill="#c0c0c0"/>
<rect x="621" y="467" width="1" height="7" fill="#c0c0c0"/>
<rect x="625" y="467" width="1" height="10" fill="#c0c0c0"/>
<rect x="629" y="467" width="1" height="13" fill="#c0c0c0"/>
<rect x="633" y="467" width="1" height="18" fill="#c0c0c0"/>
<rect x="637" y="467" width="1" height="22" fill="#c0c0c0"/>
<rect x="641" y="467" width="1" height="25" fill="#c0c0c0"/>
<rect x="645" y="467" width="1" height="27" fill="#c0c0c0"/>
<rect x="649" y="467" width="1" height="28" fill="#c0c0c0"/>
<rect x="653" y="467" width="1" height="29" fill="#c0c0c0"/>
<rect x="657" y="467" width="1" height="30" fill="#c0c0c0"/>
<rect x="661" y="467" width="1" height="29" fill="#c0c0c0"/>
<rect x="665" y="467" width="1" height="29" fill="#c0c0c0"/>
<rect x="669" y="467" width="1" height="29" fill="#c0c0c0"/>
<rect x="673" y="467" width="1" height="29" fill="#c0c0c0"/>
<rect x="677" y="467" width="1" height="29" fill="#c0c0c0"/>
<rect x="681" y="467" width="1" height="29" fill="#c0c0c0"/>
<rect x="685" y="467" width="1" height="29" fill="#c0c0c0"/>
<rect x="689" y="467" width="1" height="29" fill="#c0c0c0"/>
<rect x="693" y="467" width="1" height="27" fill="#c0c0c0"/>
<rect x="697" y="467" width="1" height="24" fill="#c0c0c0"/>
<rect x="701" y="467" width="1" height="22" fill="#c0c0c0"/>
<rect x="705" y="467" width="1" height="19" fill="#c0c0c0"/>
<rect x="709" y="467" width="1" height="17" fill="#c0c0c0"/>
<rect x="713" y="467" width="1" height="16" fill="#c0c0c0"/>
<rect x="717" y="467" width="1" height="16" fill="#c0c0c0"/>
<rect x="721" y="467" width="1" height="17" fill="#c0c0c0"/>
<rect x="725" y="467" width="1" height="19" fill="#c0c0c0"/>
<rect x="729" y="467" width="1" height="19" fill="#c0c0c0"/>
<rect x="733" y="467" width="1" height="19" fill="#c0c0c0"/>
<rect x="737" y="467" width="1" height="19" fill="#c0c0c0"/>
<rect x="741" y="467" width="1" height="20" fill="#c0c0c0"/>
<rect x="745" y="467" width="1" height="19" fill="#c0c0c0"/>
<rect x="749" y="467" width="1" height="17" fill="#c0c0c0"/>
<rect x="753" y="467" width="1" height="15" fill="#c0c0c0"/>
<rect x="757" y="467" width="1" height="11" fill="#c0c0c0"/>
<rect x="761" y="467" width="1" height="9" fill="#c0c0c0"/>
<rect x="765" y="467" width="1" height="7" fill="#c0c0c0"/>
<rect x="769" y="467" width="1" height="6" fill="#c0c0c0"/>
<rect x="773" y="467" width="1" height="4" fill="#c0c0c0"/>
<rect x="777" y="467" width="1" height="3" fill="#c0c0c0"/>
<rect x="781" y="467" width="1" height="1" fill="#c0c0c0"/>
<rect x="785" y="467" width="1" height="1" fill="#c0c0c0"/>
<rect x="789" y="467" width="1" height="1" fill="#c0c0c0"/>
<rect x="793" y="467" width="1" height="1" fill="#c0c0c0"/>
<rect x="797" y="467" width="1" height="2" fill="#c0c0c0"/>
<rect x="801" y="467" width="1" height="3" fill="#c0c0c0"/>
<rect x="805" y="467" width="1" height="3" fill="#c0c0c0"/>
<rect x="809" y="467" width="1" height="2" fill="#c0c0c0"/>
<rect x="813" y="467" width="1" height="2" fill="#c0c0c0"/>
<rect x="817" y="467" width="1" height="2" fill="#c0c0c0"/>
<rect x="821" y="467" width="1" height="1" fill="#c0c0c0"/>
<rect x="825" y="467" width="1" height="1" fill="#c0c0c0"/>
<rect x="829" y="465" width="1" height="3" fill="#c0c0c0"/>
<rect x="833" y="462" width="1" height="6" fill="#c0c0c0"/>
<rect x="837" y="459" width="1" height="9" fill="#c0c0c0"/>
<rect x="841" y="455" width="1" height="13" fill="#c0c0c0"/>
<rect x="845" y="454" width="1" height="14" fill="#c0c0c0"/>
<rect x="849" y="453" width="1" height="15" fill="#c0c0c0"/>
<rect x="853" y="453" width="1" height="15" fill="#c0c0c0"/>
<rect x="857" y="455" width="1" height="13" fill="#c0c0c0"/>
<rect x="861" y="458" width="1" height="10" fill="#c0c0c0"/>
<rect x="865" y="461" width="1" height="7" fill="#c0c0c0"/>
<rect x="869" y="462" width="1" height="6" fill="#c0c0c0"/>
<rect x="873" y="464" width="1" height="4" fill="#c0c0c0"/>
<rect x="877" y="465" width="1" height="3" fill="#c0c0c0"/>
<path d="M5 473h2v1h-2zM7 474h1v1h-1zM11 475h3v1h-3zM17 476h1v1h-1zM18 477h2v1h-2zM23 479h2v1h-2zM25 480h1v1h-1zM29 481h1v1h-1zM30 482h2v1h-2zM35 484h2v1h-2zM37 485h1v1h-1zM41 487h3v1h-3zM47 489h1v1h-1zM48 490h2v1h-2zM53 492h3v1h-3zM59 492h3v1h-3zM65 492h3v1h-3zM71 490h3v1h-3zM77 490h3v1h-3zM83 489h3v1h-3zM89 488h3v1h-3zM95 487h3v1h-3zM101 486h3v1h-3zM107 485h3v1h-3zM113 485h3v1h-3zM119 484h3v1h-3zM125 485h3v1h-3zM131 485h3v1h-3zM137 485h3v1h-3zM143 486h3v1h-3zM149 486h3v1h-3zM155 485h3v1h-3zM161 485h3v1h-3zM167 484h3v1h-3zM173 484h3v1h-3zM179 485h3v1h-3zM185 487h2v1h-2zM187 488h1v1h-1zM191 489h1v1h-1zM192 490h2v1h-2zM197 493h2v1h-2zM199 494h1v1h-1zM203 497h2v1h-2zM205 498h1v1h-1zM209 501h2v1h-2zM211 502h1v1h-1zM215 503h1v1h-1zM216 504h2v1h-2zM221 505h1v1h-1zM222 506h2v1h-2zM227 507h3v1h-3zM233 508h2v1h-2zM235 507h1v1h-1zM239 506h3v1h-3zM245 504h3v1h-3zM251 503h3v1h-3zM257 501h3v1h-3zM263 499h3v1h-3zM269 498h3v1h-3zM275 497h3v1h-3zM281 496h3v1h-3zM287 494h1v1h-1zM288 493h2v1h-2zM293 492h3v1h-3zM299 490h3v1h-3zM305 488h3v1h-3zM311 487h3v1h-3zM317 486h3v1h-3zM323 485h3v1h-3zM329 484h3v1h-3zM335 482h1v1h-1zM336 481h2v1h-2zM341 479h1v1h-1zM342 478h2v1h-2zM347 476h3v1h-3zM353 474h3v1h-3zM359 473h3v1h-3zM365 473h3v1h-3zM371 472h3v1h-3zM377 472h3v1h-3zM383 471h3v1h-3zM389 470h3v1h-3zM395 468h1v1h-1zM396 467h1v1h-1zM397 466h1v1h-1zM401 464h1v1h-1zM402 463h1v1h-1zM403 462h1v1h-1zM407 460h1v1h-1zM408 459h1v1h-1zM409 458h1v1h-1zM413 456h1v1h-1zM414 455h2v1h-2zM419 453h3v1h-3zM425 452h3v1h-3zM431 453h3v1h-3zM437 455h3v1h-3zM443 457h1v1h-1zM444 458h2v1h-2zM449 460h1v1h-1zM450 461h2v1h-2zM455 463h1v1h-1zM456 464h2v1h-2zM461 465h1v1h-1zM462 466h2v1h-2zM467 467h1v1h-1zM468 468h2v1h-2zM473 469h1v1h-1zM474 470h2v1h-2zM479 471h1v1h-1zM480 472h2v1h-2zM485 473h3v1h-3zM491 474h3v1h-3zM497 475h1v1h-1zM498 476h2v1h-2zM503 477h3v1h-3zM509 478h3v1h-3zM515 478h3v1h-3zM521 477h3v1h-3zM527 475h2v1h-2zM529 474h1v1h-1zM533 473h1v1h-1zM534 472h2v1h-2zM539 471h3v1h-3zM545 471h3v1h-3zM551 471h3v1h-3zM557 471h3v1h-3zM563 471h3v1h-3zM569 471h3v1h-3zM575 470h3v1h-3zM581 469h3v1h-3zM587 468h3v1h-3zM593 467h3v1h-3zM599 467h3v1h-3zM605 467h3v1h-3zM611 468h3v1h-3zM617 469h3v1h-3zM623 470h1v1h-1zM624 471h2v1h-2zM629 472h1v1h-1zM630 473h2v1h-2zM635 475h2v1h-2zM637 476h1v1h-1zM641 479h2v1h-2zM643 480h1v1h-1zM647 483h2v1h-2zM649 484h1v1h-1zM653 487h2v1h-2zM655 488h1v1h-1zM659 490h2v1h-2zM661 491h1v1h-1zM665 492h1v1h-1zM666 493h2v1h-2zM671 494h1v1h-1zM672 495h2v1h-2zM677 496h3v1h-3zM683 496h3v1h-3zM689 496h3v1h-3zM695 495h3v1h-3zM701 494h3v1h-3zM707 492h3v1h-3zM713 490h3v1h-3zM719 488h3v1h-3zM725 487h3v1h-3zM731 486h3v1h-3zM737 486h3v1h-3zM743 485h3v1h-3zM749 485h3v1h-3zM755 484h3v1h-3zM761 483h3v1h-3zM767 481h3v1h-3zM773 479h3v1h-3zM779 477h1v1h-1zM780 476h2v1h-2zM785 474h1v1h-1zM786 473h2v1h-2zM791 471h3v1h-3zM797 470h3v1h-3zM803 470h3v1h-3zM809 469h3v1h-3zM815 469h3v1h-3zM821 469h3v1h-3zM827 468h3v1h-3zM833 467h3v1h-3zM839 465h3v1h-3zM845 463h1v1h-1zM846 462h2v1h-2zM851 460h1v1h-1zM852 459h2v1h-2zM857 458h3v1h-3zM863 456h3v1h-3zM869 456h3v1h-3zM875 457h3v1h-3z" fill="#ff0000"/>
<line x1="6" y1="537.5" x2="1107" y2="537.5" stroke="#c0c0c0" stroke-width="1" stroke-dasharray="3 3"/>
<line x1="6" y1="565.5" x2="1107" y2="565.5" stroke="#c0c0c0" stroke-width="1" stroke-dasharray="3 3"/>
<path d="M5 558h1v1h-1zM6 559h2v1h-2zM8 560h1v1h-1zM9 561h1v1h-1zM10 560h1v1h-1zM11 558h1v2h-1zM12 557h1v1h-1zM13 556h5v1h-5zM18 557h2v1h-2zM20 558h1v1h-1zM21 559h1v1h-1zM22 560h1v1h-1zM23 561h1v2h-1zM24 563h1v1h-1zM25 564h2v1h-2zM27 565h2v1h-2zM29 566h1v1h-1zM30 567h2v1h-2zM32 568h3v1h-3zM34 569h1v1h-1zM35 564h1v4h-1zM36 560h1v4h-1zM37 558h2v1h-2zM37 559h1v1h-1zM39 557h2v1h-2zM41 556h3v1h-3zM44 557h12v1h-12zM56 556h4v1h-4zM60 555h4v1h-4zM64 556h3v1h-3zM67 557h2v1h-2zM69 558h2v1h-2zM71 559h2v1h-2zM73 560h2v1h-2zM75 559h2v1h-2zM77 558h2v1h-2zM79 557h2v1h-2zM81 556h6v1h-6zM87 557h2v1h-2zM89 558h1v1h-1zM90 557h2v1h-2zM92 556h1v1h-1zM93 555h2v1h-2zM95 556h2v1h-2zM97 557h12v1h-12zM109 558h4v1h-4zM113 559h3v1h-3zM116 560h2v1h-2zM118 561h3v1h-3zM121 562h3v1h-3zM124 563h2v1h-2zM126 564h1v1h-1zM127 563h2v1h-2zM129 562h3v1h-3zM132 561h3v1h-3zM135 560h2v1h-2zM137 559h1v1h-1zM138 558h3v1h-3zM141 559h3v1h-3zM144 560h3v1h-3zM146 561h1v1h-1zM147 558h1v2h-1zM148 556h1v2h-1zM149 554h1v2h-1zM150 553h2v1h-2zM152 554h2v1h-2zM154 555h1v1h-1zM155 556h1v1h-1zM156 557h1v1h-1zM157 558h3v1h-3zM160 559h4v1h-4zM164 558h2v1h-2zM166 559h1v1h-1zM167 560h1v1h-1zM168 561h1v1h-1zM169 562h1v1h-1zM170 563h1v1h-1zM171 564h1v1h-1zM172 565h1v1h-1zM173 566h2v1h-2zM175 567h2v1h-2zM177 568h3v1h-3zM180 569h9v1h-9zM189 570h2v1h-2zM191 571h3v1h-3zM194 572h2v1h-2zM196 573h4v1h-4zM200 574h7v1h-7zM207 572h1v2h-1zM208 571h1v1h-1zM209 569h1v2h-1zM210 568h1v1h-1zM211 566h1v2h-1zM212 564h1v2h-1zM213 562h1v2h-1zM214 561h1v1h-1zM215 562h1v1h-1zM216 563h1v1h-1zM217 564h1v1h-1zM218 565h1v1h-1zM219 566h1v1h-1zM220 567h1v1h-1zM221 568h1v1h-1zM222 569h1v1h-1zM223 568h1v1h-1zM224 566h1v2h-1zM225 565h1v1h-1zM226 564h1v1h-1zM227 563h1v1h-1zM228 561h1v2h-1zM229 560h1v1h-1zM230 559h1v1h-1zM231 560h2v1h-2zM233 561h1v1h-1zM234 560h2v1h-2zM236 559h1v1h-1zM237 558h3v1h-3zM240 557h2v1h-2zM242 558h2v1h-2zM244 559h1v1h-1zM245 560h3v1h-3zM248 561h12v1h-12zM260 562h2v1h-2zM262 563h3v1h-3zM265 564h2v1h-2zM266 563h1v1h-1zM267 561h1v2h-1zM268 559h1v2h-1zM269 557h1v2h-1zM270 556h1v1h-1zM271 557h1v1h-1zM272 558h1v1h-1zM273 559h1v1h-1zM274 557h1v2h-1zM275 556h1v1h-1zM276 554h1v2h-1zM277 553h3v1h-3zM280 554h4v1h-4zM284 555h3v1h-3zM287 556h2v1h-2zM289 557h10v1h-10zM299 558h2v1h-2zM301 559h1v1h-1zM302 560h2v1h-2zM304 559h2v1h-2zM306 560h1v1h-1zM307 561h2v1h-2zM309 562h2v1h-2zM310 563h1v1h-1zM311 560h1v2h-1zM312 558h1v2h-1zM313 556h1v2h-1zM314 555h2v1h-2zM316 554h1v1h-1zM317 553h3v1h-3zM320 552h3v1h-3zM323 551h2v1h-2zM325 550h1v1h-1zM326 549h2v1h-2zM328 550h2v1h-2zM330 551h1v1h-1zM331 550h2v1h-2zM333 549h2v1h-2zM335 548h2v1h-2zM337 547h2v1h-2zM339 548h2v1h-2zM341 549h1v1h-1zM342 550h1v1h-1zM343 551h1v2h-1zM344 553h1v1h-1zM345 554h1v1h-1zM346 555h2v1h-2zM348 554h2v1h-2zM350 553h5v1h-5zM355 554h2v1h-2zM357 555h1v1h-1zM358 556h2v1h-2zM360 555h2v1h-2zM362 554h6v1h-6zM368 553h2v1h-2zM370 552h9v1h-9zM379 550h1v2h-1zM380 549h1v1h-1zM381 547h1v2h-1zM382 546h1v1h-1zM383 545h1v1h-1zM384 544h1v1h-1zM385 543h1v1h-1zM386 542h2v1h-2zM388 541h2v1h-2zM390 540h2v1h-2zM392 539h2v1h-2zM394 538h2v1h-2zM396 537h2v1h-2zM398 536h3v1h-3zM401 537h2v1h-2zM403 538h1v2h-1zM404 540h1v2h-1zM405 542h1v1h-1zM406 543h1v1h-1zM407 544h1v1h-1zM408 545h1v1h-1zM409 546h1v1h-1zM410 547h2v1h-2zM412 548h1v1h-1zM413 549h2v1h-2zM415 550h2v1h-2zM417 551h2v1h-2zM419 550h2v1h-2zM421 549h2v1h-2zM423 548h2v1h-2zM425 547h2v1h-2zM427 548h1v2h-1zM428 550h1v1h-1zM429 551h1v2h-1zM430 553h5v1h-5zM435 552h2v1h-2zM437 551h3v1h-3zM440 550h2v1h-2zM441 551h1v1h-1zM442 552h1v2h-1zM443 554h1v2h-1zM444 556h1v2h-1zM445 558h10v1h-10zM455 556h1v2h-1zM456 555h1v1h-1zM457 553h1v2h-1zM458 552h1v1h-1zM459 553h2v1h-2zM461 554h2v1h-2zM463 553h2v1h-2zM465 552h3v1h-3zM468 551h7v1h-7zM474 552h1v1h-1zM475 553h1v2h-1zM476 555h1v2h-1zM477 557h2v1h-2zM479 558h2v1h-2zM481 559h2v1h-2zM483 560h2v1h-2zM485 561h2v1h-2zM487 560h1v1h-1zM488 559h1v1h-1zM489 558h1v1h-1zM490 557h1v1h-1zM491 558h2v1h-2zM493 559h3v1h-3zM496 560h2v1h-2zM498 559h1v1h-1zM499 558h2v1h-2zM501 557h1v1h-1zM502 556h3v1h-3zM505 557h2v1h-2zM507 556h1v1h-1zM508 555h1v1h-1zM509 554h1v1h-1zM510 553h1v1h-1zM511 551h1v2h-1zM512 549h1v2h-1zM513 547h1v2h-1zM514 546h9v1h-9zM523 545h2v1h-2zM525 544h1v1h-1zM526 545h1v2h-1zM527 547h1v1h-1zM528 548h1v1h-1zM529 549h1v2h-1zM530 551h3v1h-3zM533 552h2v1h-2zM535 553h1v1h-1zM536 554h1v2h-1zM537 556h1v1h-1zM538 557h1v1h-1zM539 558h1v1h-1zM540 559h1v2h-1zM541 561h1v1h-1zM542 562h2v1h-2zM544 561h2v1h-2zM545 560h1v1h-1zM546 558h1v2h-1zM547 556h1v2h-1zM548 554h1v2h-1zM549 552h1v2h-1zM550 551h2v1h-2zM552 550h2v1h-2zM554 549h1v1h-1zM555 548h2v1h-2zM557 547h1v1h-1zM558 546h1v1h-1zM559 547h2v1h-2zM561 548h1v1h-1zM562 549h7v1h-7zM569 550h7v1h-7zM576 551h2v1h-2zM578 552h2v1h-2zM580 553h3v1h-3zM583 552h2v1h-2zM585 551h11v1h-11zM596 550h2v1h-2zM598 549h2v1h-2zM600 550h2v1h-2zM602 551h2v1h-2zM604 552h2v1h-2zM606 553h1v1h-1zM607 554h2v1h-2zM609 555h1v1h-1zM610 556h2v1h-2zM612 557h2v1h-2zM614 558h6v1h-6zM620 557h2v1h-2zM622 558h1v1h-1zM623 559h1v1h-1zM624 560h1v1h-1zM625 561h1v1h-1zM626 562h1v1h-1zM627 563h2v1h-2zM629 564h1v1h-1zM630 565h1v1h-1zM631 566h2v1h-2zM633 567h1v1h-1zM634 568h3v1h-3zM637 567h8v1h-8zM645 568h7v1h-7zM652 567h2v1h-2zM654 566h2v1h-2zM656 567h2v1h-2zM658 568h1v1h-1zM659 566h1v2h-1zM660 565h1v1h-1zM661 563h1v2h-1zM662 562h3v1h-3zM665 563h4v1h-4zM669 564h4v1h-4zM673 565h4v1h-4zM677 566h3v1h-3zM680 567h4v1h-4zM684 566h4v1h-4zM688 567h3v1h-3zM690 566h1v1h-1zM691 564h1v2h-1zM692 562h1v2h-1zM693 560h1v2h-1zM694 559h2v1h-2zM696 558h2v1h-2zM698 557h3v1h-3zM701 556h3v1h-3zM704 555h2v1h-2zM706 554h3v1h-3zM709 553h2v1h-2zM711 554h2v1h-2zM713 555h1v1h-1zM714 556h1v1h-1zM715 557h1v1h-1zM716 558h1v2h-1zM717 560h1v1h-1zM718 561h2v1h-2zM720 562h2v1h-2zM722 563h2v1h-2zM724 562h2v1h-2zM726 561h2v1h-2zM728 560h2v1h-2zM730 559h1v1h-1zM731 560h1v1h-1zM732 561h1v2h-1zM733 563h1v1h-1zM734 564h5v1h-5zM739 563h2v1h-2zM741 562h1v1h-1zM742 561h1v1h-1zM743 559h1v2h-1zM744 557h1v2h-1zM745 555h1v2h-1zM746 554h1v1h-1zM747 555h2v1h-2zM749 556h1v1h-1zM750 557h1v1h-1zM751 556h1v1h-1zM752 555h1v1h-1zM753 554h1v1h-1zM754 553h1v1h-1zM755 551h1v2h-1zM756 550h1v1h-1zM757 548h1v2h-1zM758 547h2v1h-2zM760 548h2v1h-2zM762 549h2v1h-2zM764 550h2v1h-2zM766 551h3v1h-3zM769 550h4v1h-4zM773 549h4v1h-4zM777 548h4v1h-4zM781 549h3v1h-3zM784 550h2v1h-2zM786 551h2v1h-2zM788 550h2v1h-2zM790 549h1v1h-1zM791 550h1v1h-1zM792 551h1v2h-1zM793 553h1v1h-1zM794 554h3v1h-3zM797 555h4v1h-4zM801 554h2v1h-2zM803 553h1v1h-1zM804 552h1v1h-1zM805 551h1v1h-1zM806 550h2v1h-2zM808 551h2v1h-2zM810 552h1v1h-1zM811 551h2v1h-2zM813 550h1v1h-1zM814 549h2v1h-2zM816 550h2v1h-2zM818 551h2v1h-2zM820 550h2v1h-2zM822 549h3v1h-3zM825 548h2v1h-2zM827 546h1v2h-1zM828 545h1v1h-1zM829 543h1v2h-1zM830 542h2v1h-2zM832 541h2v1h-2zM834 540h3v1h-3zM837 539h2v1h-2zM839 538h2v1h-2zM841 537h1v1h-1zM842 536h1v1h-1zM843 537h1v1h-1zM844 538h1v2h-1zM845 540h1v1h-1zM846 541h3v1h-3zM849 542h3v1h-3zM852 543h2v1h-2zM854 544h1v1h-1zM855 545h1v2h-1zM856 547h1v2h-1zM857 549h1v2h-1zM858 551h1v1h-1zM859 552h2v1h-2zM861 553h1v1h-1zM862 554h6v1h-6zM868 553h2v1h-2zM870 552h3v1h-3zM873 551h3v1h-3zM876 552h2v1h-2z" fill="#1e90ff"/>
</g>
<g shape-rendering="crispEdges" fill="#000">
<rect x="4" y="26" width="1104" height="1" fill="#000"/>
<rect x="4" y="26" width="1" height="417" fill="#000"/>
<rect x="4" y="442" width="1104" height="1" fill="#000"/>
<rect x="1107" y="26" width="1" height="417" fill="#000"/>
<rect x="4" y="444" width="1104" height="1" fill="#000"/>
<rect x="4" y="444" width="1" height="70" fill="#000"/>
<rect x="4" y="513" width="1104" height="1" fill="#000"/>
<rect x="1107" y="444" width="1" height="70" fill="#000"/>
<rect x="4" y="515" width="1104" height="1" fill="#000"/>
<rect x="4" y="515" width="1" height="72" fill="#000"/>
<rect x="4" y="586" width="1104" height="1" fill="#000"/>
<rect x="1107" y="515" width="1" height="72" fill="#000"/>
<rect x="1108" y="43" width="2" height="1" fill="#000"/>
<rect x="1108" y="76" width="2" height="1" fill="#000"/>
<rect x="1108" y="109" width="2" height="1" fill="#000"/>
<rect x="1108" y="141" width="2" height="1" fill="#000"/>
<rect x="1108" y="175" width="2" height="1" fill="#000"/>
<rect x="1108" y="208" width="2" height="1" fill="#000"/>
<rect x="1108" y="274" width="2" height="1" fill="#000"/>
<rect x="1108" y="307" width="2" height="1" fill="#000"/>
<rect x="1108" y="340" width="2" height="1" fill="#000"/>
<rect x="1108" y="373" width="2" height="1" fill="#000"/>
<rect x="1108" y="406" width="2" height="1" fill="#000"/>
<rect x="1108" y="439" width="2" height="1" fill="#000"/>
<rect x="1108" y="240" width="2" height="1" fill="#000"/>
<rect x="1108" y="292" width="2" height="1" fill="#000"/>
<rect x="1108" y="338" width="2" height="1" fill="#000"/>
<rect x="1108" y="387" width="2" height="1" fill="#000"/>
<rect x="1108" y="366" width="2" height="1" fill="#000"/>
<rect x="1108" y="446" width="2" height="1" fill="#000"/>
<rect x="1108" y="467" width="2" height="1" fill="#000"/>
<rect x="1108" y="512" width="2" height="1" fill="#000"/>
<rect x="1108" y="517" width="2" height="1" fill="#000"/>
<rect x="1108" y="586" width="1" height="1" fill="#000"/>
<rect x="5" y="587" width="1" height="3" fill="#000"/>
<rect x="69" y="587" width="1" height="3" fill="#000"/>
<rect x="133" y="587" width="1" height="3" fill="#000"/>
<rect x="197" y="587" width="1" height="3" fill="#000"/>
<rect x="261" y="587" width="1" height="3" fill="#000"/>
<rect x="325" y="587" width="1" height="3" fill="#000"/>
<rect x="389" y="587" width="1" height="3" fill="#000"/>
<rect x="453" y="587" width="1" height="3" fill="#000"/>
<rect x="517" y="587" width="1" height="3" fill="#000"/>
<rect x="581" y="587" width="1" height="3" fill="#000"/>
<rect x="645" y="587" width="1" height="3" fill="#000"/>
<rect x="709" y="587" width="1" height="3" fill="#000"/>
<rect x="773" y="587" width="1" height="3" fill="#000"/>
<rect x="837" y="587" width="1" height="3" fill="#000"/>
</g>
<g class="b">
<text x="1112.8" y="47" font-size="9.6" fill="#000" textLength="33.30" lengthAdjust="spacingAndGlyphs">0.96580</text>
<text x="1112.8" y="80" font-size="9.6" fill="#000" textLength="33.30" lengthAdjust="spacingAndGlyphs">0.95820</text>
<text x="1112.8" y="113" font-size="9.6" fill="#000" textLength="33.30" lengthAdjust="spacingAndGlyphs">0.95060</text>
<text x="1112.8" y="145" font-size="9.6" fill="#000" textLength="33.30" lengthAdjust="spacingAndGlyphs">0.94300</text>
<text x="1112.8" y="179" font-size="9.6" fill="#000" textLength="33.30" lengthAdjust="spacingAndGlyphs">0.93520</text>
<text x="1112.8" y="212" font-size="9.6" fill="#000" textLength="33.30" lengthAdjust="spacingAndGlyphs">0.92760</text>
<text x="1112.8" y="278" font-size="9.6" fill="#000" textLength="33.30" lengthAdjust="spacingAndGlyphs">0.91220</text>
<text x="1112.8" y="311" font-size="9.6" fill="#000" textLength="33.30" lengthAdjust="spacingAndGlyphs">0.90460</text>
<text x="1112.8" y="344" font-size="9.6" fill="#000" textLength="33.30" lengthAdjust="spacingAndGlyphs">0.89700</text>
<text x="1112.8" y="377" font-size="9.6" fill="#000" textLength="33.30" lengthAdjust="spacingAndGlyphs">0.88920</text>
<text x="1112.8" y="410" font-size="9.6" fill="#000" textLength="33.30" lengthAdjust="spacingAndGlyphs">0.88160</text>
<text x="1112.8" y="443" font-size="9.6" fill="#000" textLength="33.30" lengthAdjust="spacingAndGlyphs">0.87400</text>
</g>
<g shape-rendering="crispEdges">
<rect x="1101" y="237" width="6" height="6" fill="#ff0000"/>
<rect x="1103" y="239" width="2" height="2" fill="#fff"/>
<rect x="4" y="237" width="6" height="6" fill="#ff0000"/>
<rect x="6" y="239" width="2" height="2" fill="#fff"/>
<rect x="1109" y="234" width="41" height="11" fill="#ff0000"/>
<rect x="1101" y="289" width="6" height="6" fill="#ff0000"/>
<rect x="1103" y="291" width="2" height="2" fill="#fff"/>
<rect x="4" y="289" width="6" height="6" fill="#ff0000"/>
<rect x="6" y="291" width="2" height="2" fill="#fff"/>
<rect x="1109" y="286" width="41" height="11" fill="#ff0000"/>
<rect x="1101" y="335" width="6" height="6" fill="#00ff00"/>
<rect x="1103" y="337" width="2" height="2" fill="#fff"/>
<rect x="4" y="335" width="6" height="6" fill="#00ff00"/>
<rect x="6" y="337" width="2" height="2" fill="#fff"/>
<rect x="1109" y="332" width="41" height="11" fill="#00ff00"/>
<rect x="1101" y="384" width="6" height="6" fill="#0000ff"/>
<rect x="1103" y="386" width="2" height="2" fill="#fff"/>
<rect x="4" y="384" width="6" height="6" fill="#0000ff"/>
<rect x="6" y="386" width="2" height="2" fill="#fff"/>
<rect x="1109" y="381" width="41" height="11" fill="#0000ff"/>
<rect x="1109" y="428" width="41" height="11" fill="#0000ff"/>
<rect x="1109" y="361" width="41" height="11" fill="#000"/>
<rect x="1107" y="366" width="2" height="1" fill="#fff"/>
</g>
<g class="w">
<text x="1113" y="243" font-size="9.6" fill="#fff" textLength="33.00" lengthAdjust="spacingAndGlyphs">0.92018</text>
<text x="1113" y="295" font-size="9.6" fill="#fff" textLength="33.00" lengthAdjust="spacingAndGlyphs">0.90813</text>
<text x="1113" y="341" font-size="9.6" fill="#fff" textLength="33.00" lengthAdjust="spacingAndGlyphs">0.89748</text>
<text x="1113" y="390" font-size="9.6" fill="#fff" textLength="33.00" lengthAdjust="spacingAndGlyphs">0.88614</text>
<text x="1113" y="437" font-size="9.6" fill="#fff" textLength="33.00" lengthAdjust="spacingAndGlyphs">0.87525</text>
<text x="1113" y="370" font-size="9.6" fill="#fff" textLength="33.00" lengthAdjust="spacingAndGlyphs">0.89103</text>
</g>
<g class="b">
<text x="1111" y="455" font-size="9.6" fill="#000" textLength="37.60" lengthAdjust="spacingAndGlyphs">0.004527</text>
<text x="1111" y="471" font-size="9.6" fill="#000" textLength="18.50" lengthAdjust="spacingAndGlyphs">0.00</text>
<text x="1111" y="510" font-size="9.6" fill="#000" textLength="41.00" lengthAdjust="spacingAndGlyphs">-0.009348</text>
<text x="1111.4" y="526" font-size="9.6" fill="#000" textLength="14.60" lengthAdjust="spacingAndGlyphs">100</text>
<text x="1111.4" y="541" font-size="9.6" fill="#000" textLength="9.40" lengthAdjust="spacingAndGlyphs">70</text>
<text x="1111.4" y="569" font-size="9.6" fill="#000" textLength="9.40" lengthAdjust="spacingAndGlyphs">30</text>
<text x="1111.4" y="583" font-size="9.6" fill="#000" textLength="4.60" lengthAdjust="spacingAndGlyphs">0</text>
<path d="M8 33h7l-3.5 4.5z" fill="#000"/>
<text x="20.4" y="38" font-size="9.6" fill="#000" textLength="63.80" lengthAdjust="spacingAndGlyphs">USDCHF,Daily</text>
<text x="90.6" y="38" font-size="9.6" fill="#000" textLength="141.00" lengthAdjust="spacingAndGlyphs">0.89128 0.89240 0.89090 0.89103</text>
<text x="9.6" y="457" font-size="9.6" fill="#000" textLength="147.40" lengthAdjust="spacingAndGlyphs">MACD(12,26,9) 0.000722 0.002060</text>
<text x="9.6" y="528" font-size="9.6" fill="#000" textLength="67.40" lengthAdjust="spacingAndGlyphs">RSI(14) 47.2774</text>
<text x="4.5" y="599" font-size="9.6" fill="#000" textLength="45.25" lengthAdjust="spacingAndGlyphs">3 Jun 2020</text>
<text x="68.5" y="599" font-size="9.6" fill="#000" textLength="50.34" lengthAdjust="spacingAndGlyphs">22 Jun 2020</text>
<text x="132.5" y="599" font-size="9.6" fill="#000" textLength="47.28" lengthAdjust="spacingAndGlyphs">10 Jul 2020</text>
<text x="196.5" y="599" font-size="9.6" fill="#000" textLength="47.28" lengthAdjust="spacingAndGlyphs">29 Jul 2020</text>
<text x="260.5" y="599" font-size="9.6" fill="#000" textLength="51.36" lengthAdjust="spacingAndGlyphs">17 Aug 2020</text>
<text x="324.5" y="599" font-size="9.6" fill="#000" textLength="46.78" lengthAdjust="spacingAndGlyphs">4 Sep 2020</text>
<text x="388.5" y="599" font-size="9.6" fill="#000" textLength="51.87" lengthAdjust="spacingAndGlyphs">23 Sep 2020</text>
<text x="452.5" y="599" font-size="9.6" fill="#000" textLength="49.82" lengthAdjust="spacingAndGlyphs">12 Oct 2020</text>
<text x="516.5" y="599" font-size="9.6" fill="#000" textLength="49.82" lengthAdjust="spacingAndGlyphs">30 Oct 2020</text>
<text x="580.5" y="599" font-size="9.6" fill="#000" textLength="51.86" lengthAdjust="spacingAndGlyphs">18 Nov 2020</text>
<text x="644.5" y="599" font-size="9.6" fill="#000" textLength="46.77" lengthAdjust="spacingAndGlyphs">7 Dec 2020</text>
<text x="708.5" y="599" font-size="9.6" fill="#000" textLength="51.86" lengthAdjust="spacingAndGlyphs">25 Dec 2020</text>
<text x="772.5" y="599" font-size="9.6" fill="#000" textLength="50.34" lengthAdjust="spacingAndGlyphs">15 Jan 2021</text>
<text x="836.5" y="599" font-size="9.6" fill="#000" textLength="46.27" lengthAdjust="spacingAndGlyphs">3 Feb 2021</text>
</g>
<g shape-rendering="crispEdges">
<rect x="0" y="607" width="1150" height="1" fill="#e3e3e3"/>
<rect x="0" y="608" width="1150" height="1" fill="#ffffff"/>
<rect x="0" y="609" width="1150" height="1" fill="#000000"/>
<rect x="0" y="610" width="1150" height="18" fill="#f0f0f0"/>
<rect x="2" y="610" width="1150" height="1" fill="#fbfbfb"/>
<rect x="314" y="610" width="1" height="18" fill="#fbfbfb"/>
<rect x="213" y="611" width="1" height="17" fill="#fbfbfb"/>
<rect x="0" y="628" width="1150" height="1" fill="#f0f0f0"/>
<rect x="0" y="629" width="1150" height="2" fill="#fafafa"/>
<rect x="1" y="610" width="1" height="18" fill="#696969"/>
<rect x="0" y="610" width="1" height="18" fill="#8c8c8c"/>
<rect x="214" y="609" width="100" height="19" fill="#000"/>
<rect x="215" y="609" width="98" height="18" fill="#fff"/>
<rect x="110" y="612" width="1" height="15" fill="#6e6e6e"/>
<rect x="418" y="612" width="1" height="15" fill="#6e6e6e"/>
<rect x="538" y="612" width="1" height="15" fill="#6e6e6e"/>
<rect x="626" y="612" width="1" height="15" fill="#6e6e6e"/>
<rect x="718" y="612" width="1" height="15" fill="#6e6e6e"/>
<rect x="810" y="612" width="1" height="15" fill="#6e6e6e"/>
</g>
<text x="18.5" y="624" font-size="12.4" fill="#6a6a6a" textLength="79.50" lengthAdjust="spacingAndGlyphs">EURUSD,Daily</text>
<text x="120.9" y="624" font-size="12.4" fill="#6a6a6a" textLength="82.00" lengthAdjust="spacingAndGlyphs">AUDUSD,Daily</text>
<text x="224.6" y="624" font-size="12.4" fill="#000" textLength="77.90" lengthAdjust="spacingAndGlyphs">USDCHF,Daily</text>
<text x="325.3" y="624" font-size="12.4" fill="#6a6a6a" textLength="80.40" lengthAdjust="spacingAndGlyphs">USDCAD,Daily</text>
<text x="429.7" y="624" font-size="12.4" fill="#6a6a6a" textLength="96.00" lengthAdjust="spacingAndGlyphs">USDCNH,Weekly</text>
<text x="548.3" y="624" font-size="12.4" fill="#6a6a6a" textLength="66.50" lengthAdjust="spacingAndGlyphs">EURGBP,H1</text>
<text x="637.5" y="624" font-size="12.4" fill="#6a6a6a" textLength="69.40" lengthAdjust="spacingAndGlyphs">NZDUSD,H1</text>
<text x="730.4" y="624" font-size="12.4" fill="#6a6a6a" textLength="67.00" lengthAdjust="spacingAndGlyphs">GBPUSD,H1</text>
<path d="M1126 615v7l-3.5-3.5z" fill="#9a9a9a"/>
<path d="M1142 615v7l3.5-3.5z" fill="#9a9a9a"/>
</svg>
</body></html>
